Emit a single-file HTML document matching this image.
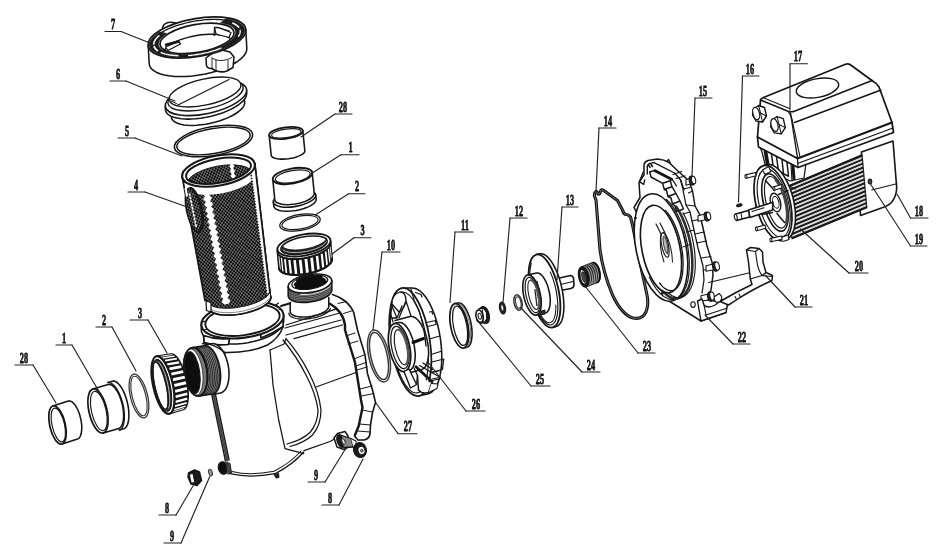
<!DOCTYPE html>
<html><head><meta charset="utf-8"><title>Pump exploded view</title>
<style>
html,body{margin:0;padding:0;background:#fff;}
body{width:944px;height:560px;overflow:hidden;font-family:"Liberation Serif",serif;}
svg{display:block}
.lb{font-family:"Liberation Serif",serif;font-weight:bold;font-size:14.8px;fill:#111;stroke:#111;stroke-width:0.75px;}
</style></head><body>
<svg width="944" height="560" viewBox="0 0 944 560" stroke-linecap="round" stroke-linejoin="round">
<defs>
<pattern id="mesh" width="3.3" height="3.8" patternUnits="userSpaceOnUse" patternTransform="rotate(-8)">
<rect width="3.3" height="3.8" fill="#050505"/><circle cx="0.8" cy="0.95" r="0.63" fill="#fff"/><circle cx="2.45" cy="2.85" r="0.63" fill="#fff"/>
</pattern>
<pattern id="mesh2" width="3.2" height="3.4" patternUnits="userSpaceOnUse" patternTransform="rotate(-8)">
<rect width="3.2" height="3.4" fill="#222"/><circle cx="0.8" cy="0.85" r="0.95" fill="#fff"/><circle cx="2.4" cy="2.55" r="0.95" fill="#fff"/>
</pattern>
<filter id="soft" x="-2%" y="-2%" width="104%" height="104%"><feGaussianBlur stdDeviation="0.38"/></filter>
</defs>
<rect width="944" height="560" fill="#fff"/>
<g filter="url(#soft)">
<path d="M245.8 29.8 L246.8 48.3 L246.6 50.8 L245.5 53.5 L243.5 56.2 L240.8 58.9 L237.4 61.5 L233.3 64 L228.6 66.4 L223.3 68.7 L217.6 70.7 L211.6 72.4 L205.4 73.9 L199 75.1 L192.6 75.9 L186.4 76.4 L180.3 76.6 L174.5 76.4 L169.1 75.8 L164.2 75 L159.9 73.7 L156.2 72.2 L153.3 70.4 L151.1 68.4 L149.7 66.1 L149.2 63.7 L148.2 45.2Z" fill="#fff" stroke="none" stroke-width="0.0" />
<path d="M245.8 29.8 L246.8 48.3 L246.6 50.8 L245.5 53.5 L243.5 56.2 L240.8 58.9 L237.4 61.5 L233.3 64 L228.6 66.4 L223.3 68.7 L217.6 70.7 L211.6 72.4 L205.4 73.9 L199 75.1 L192.6 75.9 L186.4 76.4 L180.3 76.6 L174.5 76.4 L169.1 75.8 L164.2 75 L159.9 73.7 L156.2 72.2 L153.3 70.4 L151.1 68.4 L149.7 66.1 L149.2 63.7 L148.2 45.2" fill="none" stroke="#151515" stroke-width="1.55" />
<path d="M206 58 L206.5 66 Q208 69 212 68.5 L215 70.5 Q221 73 227 71 L233 67.5 L234 57 L230 52 L222 50 L214 52 Z" fill="#fff" stroke="#151515" stroke-width="1.55" />
<path d="M212 58 L212 68.5 M212 58 L216 60 L216 70.5 M216 60 Q224 62 232 57.5 M228 60.5 L228 70.5" fill="none" stroke="#151515" stroke-width="0.92" />
<path d="M162.5 30 Q162 24 168 22.5 Q174 21.5 178 24.5 L176 28" fill="#fff" stroke="#151515" stroke-width="1.55" />
<ellipse cx="197" cy="37.5" rx="49.5" ry="19" transform="rotate(-10 197 37.5)" fill="#fff" stroke="#151515" stroke-width="1.72" />
<path d="M226.4 18.8 L229.3 19.3 L231.9 19.9 L234.3 20.7 L236.5 21.5 L238.5 22.4 L240.2 23.4 L241.6 24.5 L242.8 25.7 L243.7 27 L244.2 28.3 L244.5 29.7 L244.5 31.1 L244.2 32.6 L243.7 34.1 L242.8 35.6 L241.6 37.2 L240.2 38.7 L238.5 40.2 L236.6 41.8 L234.4 43.2 L231.9 44.7 L229.3 46.1 L226.5 47.5 L223.4 48.8 L220.3 50 L216.9 51.1 L213.5 52.2 L209.9 53.2 L206.3 54.1 L202.6 54.9 L198.9 55.5 L195.1 56.1 L191.4 56.6 L187.7 56.9 L184.1 57.1 L180.5 57.2 L177.1 57.2 L173.8 57 L170.6 56.8 L167.6 56.4 L164.7 55.9 L162.1 55.3 L159.7 54.5 L157.5 53.7 L155.5 52.8 L153.8 51.8 L152.4 50.7 L151.2 49.5 L150.3 48.2 L149.8 46.9 L149.5 45.5 L149.5 44.1 L149.8 42.6 L150.3 41.1 L151.2 39.6 L152.4 38 L153.8 36.5 L155.5 35 L157.4 33.4 L159.6 32 L166.6 33.4 L164.8 34.7 L163.2 35.9 L161.8 37.2 L160.7 38.5 L159.7 39.7 L159 41 L158.6 42.2 L158.3 43.4 L158.3 44.6 L158.6 45.8 L159.1 46.9 L159.8 47.9 L160.7 48.9 L161.9 49.8 L163.3 50.7 L164.9 51.4 L166.7 52.1 L168.6 52.7 L170.8 53.2 L173.1 53.7 L175.6 54 L178.1 54.2 L180.9 54.3 L183.7 54.4 L186.6 54.3 L189.5 54.1 L192.5 53.9 L195.5 53.5 L198.6 53 L201.6 52.5 L204.6 51.9 L207.6 51.1 L210.4 50.3 L213.3 49.5 L216 48.5 L218.5 47.5 L221 46.4 L223.3 45.3 L225.5 44.2 L227.4 43 L229.2 41.7 L230.8 40.5 L232.2 39.2 L233.3 37.9 L234.3 36.7 L235 35.4 L235.4 34.2 L235.7 33 L235.7 31.8 L235.4 30.6 L234.9 29.5 L234.2 28.5 L233.3 27.5 L232.1 26.6 L230.7 25.7 L229.1 25 L227.3 24.3 L225.4 23.7 L223.2 23.2 L220.9 22.7Z" fill="#1c1c1c" stroke="#151515" stroke-width="0.69" />
<path d="M161 32.7 L163 31.6 L165 30.5 L167.3 29.4 L169.6 28.3 L172.1 27.3 L174.7 26.3 L177.3 25.4 L180.1 24.6 L182.9 23.8 L185.8 23 L188.7 22.3 L191.7 21.7 L194.7 21.2 L197.7 20.7 L200.7 20.3 L203.7 19.9 L206.6 19.7 L209.5 19.5 L212.4 19.4 L215.2 19.4 L217.9 19.5 L220.5 19.6 L223.1 19.8 L225.5 20.1" fill="none" stroke="#151515" stroke-width="1.26" />
<ellipse cx="197" cy="38.4" rx="37.5" ry="14" transform="rotate(-10 197 38.4)" fill="#fff" stroke="#151515" stroke-width="1.72" />
<path d="M177.9 55.7 L177.1 55.7 L176.2 55.6 L175.4 55.6 L174.6 55.5 L173.8 55.4 L173 55.3 L172.2 55.3 L171.5 55.2 L170.7 55.1 L170 54.9 L169.2 54.8 L168.5 54.7 L167.8 54.6 L167.1 54.4 L166.4 54.3 L165.8 54.1 L165.1 53.9 L164.5 53.8 L163.9 53.6 L163.3 53.4 L162.7 53.2 L162.2 53 L161.6 52.8 L161.1 52.6" fill="none" stroke="#f4f4f4" stroke-width="1.49" />
<path d="M221 48.1 L219.8 48.6 L218.6 49 L217.4 49.5 L216.1 49.9 L214.9 50.3 L213.6 50.7 L212.2 51.1 L210.9 51.5 L209.6 51.9 L208.2 52.3 L206.8 52.6 L205.5 52.9 L204.1 53.2 L202.7 53.5 L201.3 53.8 L199.8 54.1 L198.4 54.3 L197 54.5 L195.6 54.7 L194.2 54.9 L192.8 55.1 L191.4 55.2 L190 55.4 L188.6 55.5" fill="none" stroke="#f4f4f4" stroke-width="1.38" />
<path d="M157.4 50.6 L157.2 50.4 L157 50.3 L156.9 50.1 L156.7 50 L156.5 49.8 L156.3 49.7 L156.2 49.5 L156 49.3 L155.8 49.2 L155.7 49 L155.5 48.9 L155.4 48.7 L155.3 48.5 L155.1 48.4 L155 48.2 L154.9 48 L154.8 47.9 L154.7 47.7 L154.6 47.5 L154.5 47.3 L154.4 47.2 L154.3 47 L154.2 46.8 L154.2 46.6" fill="none" stroke="#f4f4f4" stroke-width="1.84" />
<path d="M153.8 44.1 L153.8 43.7 L153.9 43.4 L153.9 43.1 L154 42.7 L154.1 42.4 L154.2 42.1 L154.3 41.7 L154.5 41.4 L154.6 41 L154.8 40.7 L155 40.3 L155.2 40 L155.4 39.6 L155.7 39.3 L155.9 38.9 L156.2 38.6 L156.5 38.2 L156.8 37.9 L157.1 37.5 L157.4 37.2 L157.8 36.8 L158.1 36.5 L158.5 36.1 L158.9 35.8" fill="none" stroke="#f4f4f4" stroke-width="1.61" />
<path d="M232.9 23.2 L233.2 23.4 L233.5 23.5 L233.8 23.6 L234.1 23.8 L234.4 23.9 L234.7 24.1 L235 24.2 L235.2 24.4 L235.5 24.5 L235.8 24.7 L236 24.9 L236.2 25 L236.5 25.2 L236.7 25.3 L236.9 25.5 L237.1 25.7 L237.3 25.8 L237.5 26 L237.7 26.2 L237.9 26.4 L238.1 26.6 L238.3 26.7 L238.4 26.9 L238.6 27.1" fill="none" stroke="#f4f4f4" stroke-width="1.72" />
<path d="M240.1 30.3 L240.2 30.5 L240.2 30.8 L240.2 31 L240.2 31.2 L240.2 31.5 L240.2 31.7 L240.2 32 L240.2 32.2 L240.1 32.5 L240.1 32.7 L240 33 L240 33.2 L239.9 33.5 L239.8 33.7 L239.7 34 L239.6 34.2 L239.5 34.5 L239.4 34.7 L239.3 35 L239.1 35.2 L239 35.5 L238.8 35.8 L238.7 36 L238.5 36.3" fill="none" stroke="#f4f4f4" stroke-width="1.38" />
<path d="M164.1 50.7 L165.1 49.3 L166.3 47.8 L167.9 46.4 L169.9 44.9 L172.2 43.5 L174.7 42.2 L177.5 40.9 L180.6 39.7 L183.8 38.6 L187.2 37.6 L190.7 36.7 L194.3 36 L198 35.3 L201.6 34.8 L205.2 34.5 L208.7 34.3 L212.1 34.3 L215.3 34.4 L218.4 34.7 L221.2 35.1 L223.8 35.6 L226.1 36.3 L228 37.1 L229.6 38.1" fill="none" stroke="#151515" stroke-width="1.38" />
<path d="M214.5 27.5 L216 34 L229 37.5 L231 32.5 L218 27.5 Z" fill="#fff" stroke="#151515" stroke-width="1.26" />
<path d="M216 34 L214 35.5 L214.5 27.5 M218 27.5 L229.5 31" fill="none" stroke="#151515" stroke-width="1.15" />
<path d="M165.5 47 L178.5 41.5 L180.5 44 L168 50.5 Z" fill="#fff" stroke="#151515" stroke-width="1.26" />
<path d="M166 44.8 L178.5 41.5" fill="none" stroke="#151515" stroke-width="2.53" />
<path d="M243.1 94 L244.6 101.5 L244.7 103.4 L244.1 105.3 L242.9 107.4 L241.1 109.4 L238.7 111.5 L235.8 113.5 L232.5 115.5 L228.7 117.4 L224.6 119.1 L220.1 120.7 L215.5 122.1 L210.7 123.2 L205.9 124.2 L201.2 124.8 L196.5 125.3 L192.1 125.4 L187.9 125.3 L184 124.9 L180.6 124.2 L177.6 123.3 L175.2 122.2 L173.3 120.8 L172 119.2 L171.4 117.5 L169.9 110Z" fill="#fff" stroke="none" stroke-width="0.0" />
<path d="M243.1 94 L244.6 101.5 L244.7 103.4 L244.1 105.3 L242.9 107.4 L241.1 109.4 L238.7 111.5 L235.8 113.5 L232.5 115.5 L228.7 117.4 L224.6 119.1 L220.1 120.7 L215.5 122.1 L210.7 123.2 L205.9 124.2 L201.2 124.8 L196.5 125.3 L192.1 125.4 L187.9 125.3 L184 124.9 L180.6 124.2 L177.6 123.3 L175.2 122.2 L173.3 120.8 L172 119.2 L171.4 117.5 L169.9 110" fill="none" stroke="#151515" stroke-width="1.55" />
<path d="M246.7 90.3 L246.7 93.8 L246.3 95.9 L245.3 98.2 L243.6 100.4 L241.2 102.7 L238.3 105 L234.7 107.2 L230.7 109.4 L226.3 111.4 L221.6 113.2 L216.5 114.8 L211.3 116.2 L206 117.3 L200.7 118.2 L195.5 118.8 L190.4 119.1 L185.7 119.1 L181.3 118.7 L177.3 118.1 L173.7 117.2 L170.8 116.1 L168.4 114.7 L166.7 113 L165.7 111.2 L165.3 109.2 L165.3 105.7Z" fill="#fff" stroke="none" stroke-width="0.0" />
<path d="M246.7 90.3 L246.7 93.8 L246.3 95.9 L245.3 98.2 L243.6 100.4 L241.2 102.7 L238.3 105 L234.7 107.2 L230.7 109.4 L226.3 111.4 L221.6 113.2 L216.5 114.8 L211.3 116.2 L206 117.3 L200.7 118.2 L195.5 118.8 L190.4 119.1 L185.7 119.1 L181.3 118.7 L177.3 118.1 L173.7 117.2 L170.8 116.1 L168.4 114.7 L166.7 113 L165.7 111.2 L165.3 109.2 L165.3 105.7" fill="none" stroke="#151515" stroke-width="1.55" />
<ellipse cx="206" cy="98" rx="41.5" ry="15.5" transform="rotate(-12.5 206 98)" fill="#fff" stroke="#151515" stroke-width="1.55" />
<ellipse cx="205.5" cy="95" rx="38.5" ry="14" transform="rotate(-12.5 205.5 95)" fill="#fff" stroke="#151515" stroke-width="1.38" />
<ellipse cx="205" cy="92" rx="36.7" ry="13" transform="rotate(-12.5 205 92)" fill="#fff" stroke="#151515" stroke-width="1.38" />
<line x1="177" y1="105.6" x2="229" y2="79.4" stroke="#151515" stroke-width="1.1"/>
<line x1="171" y1="101" x2="176.5" y2="103.5" stroke="#151515" stroke-width="1.0"/>
<ellipse cx="213.5" cy="141" rx="39.7" ry="14.4" transform="rotate(-10 213.5 141)" fill="none" stroke="#151515" stroke-width="1.55" />
<ellipse cx="213.5" cy="141" rx="37.2" ry="12.4" transform="rotate(-10 213.5 141)" fill="none" stroke="#151515" stroke-width="1.44" />
<path d="M302.8 130.7 L304.8 150.7 L304.8 151.5 L304.4 152.3 L303.8 153.1 L302.9 153.9 L301.7 154.6 L300.3 155.4 L298.7 156.1 L296.9 156.8 L295 157.4 L292.9 157.9 L290.8 158.3 L288.6 158.7 L286.4 158.9 L284.2 159.1 L282.1 159.1 L280.1 159.1 L278.2 158.9 L276.5 158.6 L275 158.3 L273.7 157.8 L272.7 157.3 L271.9 156.7 L271.4 156 L271.2 155.3 L269.2 135.3Z" fill="#fff" stroke="none" stroke-width="0.0" />
<path d="M302.8 130.7 L304.8 150.7 L304.8 151.5 L304.4 152.3 L303.8 153.1 L302.9 153.9 L301.7 154.6 L300.3 155.4 L298.7 156.1 L296.9 156.8 L295 157.4 L292.9 157.9 L290.8 158.3 L288.6 158.7 L286.4 158.9 L284.2 159.1 L282.1 159.1 L280.1 159.1 L278.2 158.9 L276.5 158.6 L275 158.3 L273.7 157.8 L272.7 157.3 L271.9 156.7 L271.4 156 L271.2 155.3 L269.2 135.3" fill="none" stroke="#151515" stroke-width="1.55" />
<ellipse cx="286" cy="133" rx="17" ry="5.7" transform="rotate(-8 286 133)" fill="#fff" stroke="#151515" stroke-width="1.84" />
<ellipse cx="286.3" cy="133.4" rx="14.8" ry="4.3" transform="rotate(-8 286.3 133.4)" fill="#fff" stroke="#151515" stroke-width="1.15" />
<path d="M315.7 194.9 L316.2 198.9 L316.1 200 L315.7 201.1 L315 202.2 L313.9 203.4 L312.4 204.5 L310.7 205.6 L308.7 206.6 L306.5 207.6 L304 208.5 L301.4 209.2 L298.8 209.9 L296 210.4 L293.2 210.8 L290.5 211.1 L287.8 211.2 L285.3 211.2 L282.9 211 L280.7 210.7 L278.8 210.2 L277.1 209.6 L275.8 208.9 L274.8 208 L274.1 207.1 L273.8 206.1 L273.3 202.1Z" fill="#fff" stroke="none" stroke-width="0.0" />
<path d="M315.7 194.9 L316.2 198.9 L316.1 200 L315.7 201.1 L315 202.2 L313.9 203.4 L312.4 204.5 L310.7 205.6 L308.7 206.6 L306.5 207.6 L304 208.5 L301.4 209.2 L298.8 209.9 L296 210.4 L293.2 210.8 L290.5 211.1 L287.8 211.2 L285.3 211.2 L282.9 211 L280.7 210.7 L278.8 210.2 L277.1 209.6 L275.8 208.9 L274.8 208 L274.1 207.1 L273.8 206.1 L273.3 202.1" fill="none" stroke="#151515" stroke-width="1.55" />
<ellipse cx="294.5" cy="198.5" rx="21.5" ry="8" transform="rotate(-10 294.5 198.5)" fill="#fff" stroke="#151515" stroke-width="1.55" />
<path d="M312.2 172.7 L314.2 193.2 L314.2 194.2 L313.7 195.3 L313 196.4 L311.9 197.4 L310.6 198.5 L309 199.5 L307.1 200.5 L305 201.4 L302.7 202.2 L300.3 202.9 L297.8 203.5 L295.2 204 L292.6 204.3 L290.1 204.6 L287.6 204.7 L285.3 204.6 L283.1 204.4 L281.1 204.1 L279.3 203.6 L277.8 203.1 L276.6 202.4 L275.6 201.6 L275 200.7 L274.8 199.8 L272.8 179.3Z" fill="#fff" stroke="none" stroke-width="0.0" />
<path d="M312.2 172.7 L314.2 193.2 L314.2 194.2 L313.7 195.3 L313 196.4 L311.9 197.4 L310.6 198.5 L309 199.5 L307.1 200.5 L305 201.4 L302.7 202.2 L300.3 202.9 L297.8 203.5 L295.2 204 L292.6 204.3 L290.1 204.6 L287.6 204.7 L285.3 204.6 L283.1 204.4 L281.1 204.1 L279.3 203.6 L277.8 203.1 L276.6 202.4 L275.6 201.6 L275 200.7 L274.8 199.8 L272.8 179.3" fill="none" stroke="#151515" stroke-width="1.55" />
<ellipse cx="292.5" cy="176" rx="20" ry="7.5" transform="rotate(-10 292.5 176)" fill="#fff" stroke="#151515" stroke-width="1.95" />
<ellipse cx="292.8" cy="176.5" rx="17.6" ry="5.9" transform="rotate(-10 292.8 176.5)" fill="#fff" stroke="#151515" stroke-width="1.15" />
<ellipse cx="300" cy="222.5" rx="20.5" ry="8" transform="rotate(-10 300 222.5)" fill="none" stroke="#151515" stroke-width="1.26" />
<ellipse cx="300" cy="222.5" rx="18.3" ry="6.5" transform="rotate(-10 300 222.5)" fill="none" stroke="#151515" stroke-width="1.15" />
<path d="M330.6 242.4 L332.1 258.9 L332 260.3 L331.4 261.8 L330.4 263.2 L329 264.7 L327.2 266.2 L325 267.7 L322.4 269 L319.6 270.3 L316.6 271.4 L313.3 272.4 L309.9 273.3 L306.5 274 L303 274.5 L299.5 274.8 L296.2 275 L293 274.9 L290.1 274.6 L287.4 274.2 L285 273.6 L283 272.8 L281.3 271.8 L280.1 270.7 L279.3 269.5 L278.9 268.1 L277.4 251.6Z" fill="#fff" stroke="none" stroke-width="0.0" />
<path d="M330.6 242.4 L332.1 258.9 L332 260.3 L331.4 261.8 L330.4 263.2 L329 264.7 L327.2 266.2 L325 267.7 L322.4 269 L319.6 270.3 L316.6 271.4 L313.3 272.4 L309.9 273.3 L306.5 274 L303 274.5 L299.5 274.8 L296.2 275 L293 274.9 L290.1 274.6 L287.4 274.2 L285 273.6 L283 272.8 L281.3 271.8 L280.1 270.7 L279.3 269.5 L278.9 268.1 L277.4 251.6" fill="none" stroke="#151515" stroke-width="1.55" />
<path d="M330.6 242.9 L330.5 244.2 L330 245.7 L329 247.1 L327.7 248.6 L325.9 250 L323.8 251.4 L321.4 252.8 L318.7 254 L315.7 255.2 L312.6 256.2 L309.3 257.1 L305.9 257.8 L302.5 258.4 L299.2 258.8 L295.9 258.9 L292.7 259 L289.7 258.8 L287 258.4 L284.5 257.9 L282.4 257.1 L280.6 256.3 L279.1 255.3 L278.1 254.1 L277.6 252.9 L279.1 268.9 L279.6 270.1 L280.6 271.3 L282.1 272.3 L283.9 273.1 L286 273.9 L288.5 274.4 L291.2 274.8 L294.2 275 L297.4 274.9 L300.7 274.8 L304 274.4 L307.4 273.8 L310.8 273.1 L314.1 272.2 L317.2 271.2 L320.2 270 L322.9 268.8 L325.3 267.4 L327.4 266 L329.2 264.6 L330.5 263.1 L331.5 261.7 L332 260.2 L332.1 258.9Z" fill="#151515" stroke="#151515" stroke-width="0.57" />
<path d="M330.1 246.4 L331.6 260.3" fill="none" stroke="#fff" stroke-width="0.88" stroke-linecap="butt"/>
<path d="M328.4 248.9 L329.9 262.8" fill="none" stroke="#fff" stroke-width="1.3" stroke-linecap="butt"/>
<path d="M325.6 251.4 L327.1 265.3" fill="none" stroke="#fff" stroke-width="1.76" stroke-linecap="butt"/>
<path d="M321.7 253.7 L323.2 267.6" fill="none" stroke="#fff" stroke-width="2.2" stroke-linecap="butt"/>
<path d="M317 255.8 L318.5 269.7" fill="none" stroke="#fff" stroke-width="2.56" stroke-linecap="butt"/>
<path d="M311.6 257.6 L313.1 271.5" fill="none" stroke="#fff" stroke-width="2.79" stroke-linecap="butt"/>
<path d="M305.9 258.9 L307.4 272.8" fill="none" stroke="#fff" stroke-width="2.88" stroke-linecap="butt"/>
<path d="M300.2 259.8 L301.7 273.7" fill="none" stroke="#fff" stroke-width="2.79" stroke-linecap="butt"/>
<path d="M294.6 260.1 L296.1 274" fill="none" stroke="#fff" stroke-width="2.56" stroke-linecap="butt"/>
<path d="M289.4 259.8 L290.9 273.7" fill="none" stroke="#fff" stroke-width="2.2" stroke-linecap="butt"/>
<path d="M284.9 259.1 L286.4 273" fill="none" stroke="#fff" stroke-width="1.76" stroke-linecap="butt"/>
<path d="M281.4 257.8 L282.9 271.7" fill="none" stroke="#fff" stroke-width="1.3" stroke-linecap="butt"/>
<path d="M278.9 256.1 L280.4 270" fill="none" stroke="#fff" stroke-width="0.88" stroke-linecap="butt"/>
<path d="M332 258.5 L332.1 259.9 L331.6 261.3 L330.8 262.8 L329.5 264.3 L327.7 265.8 L325.6 267.3 L323.2 268.6 L320.5 269.9 L317.5 271.1 L314.2 272.2 L310.9 273.1 L307.4 273.8 L304 274.4 L300.5 274.8 L297.1 275 L293.9 274.9 L290.9 274.7 L288.1 274.3 L285.6 273.8 L283.5 273 L281.7 272.1 L280.4 271 L279.5 269.8 L279 268.5" fill="none" stroke="#151515" stroke-width="2.07" />
<path d="M330.6 240.8 L330.6 243.1 L330.4 244.5 L329.7 246 L328.6 247.5 L327 249 L325.1 250.4 L322.8 251.8 L320.2 253.2 L317.3 254.4 L314.2 255.5 L310.9 256.5 L307.5 257.3 L304 258 L300.5 258.4 L297.1 258.7 L293.8 258.8 L290.7 258.7 L287.8 258.3 L285.2 257.8 L282.9 257.2 L281 256.3 L279.4 255.3 L278.3 254.2 L277.6 252.9 L277.4 251.5 L277.4 249.2Z" fill="#fff" stroke="none" stroke-width="0.0" />
<path d="M330.6 240.8 L330.6 243.1 L330.4 244.5 L329.7 246 L328.6 247.5 L327 249 L325.1 250.4 L322.8 251.8 L320.2 253.2 L317.3 254.4 L314.2 255.5 L310.9 256.5 L307.5 257.3 L304 258 L300.5 258.4 L297.1 258.7 L293.8 258.8 L290.7 258.7 L287.8 258.3 L285.2 257.8 L282.9 257.2 L281 256.3 L279.4 255.3 L278.3 254.2 L277.6 252.9 L277.4 251.5 L277.4 249.2" fill="none" stroke="#151515" stroke-width="1.55" />
<ellipse cx="304" cy="245" rx="27" ry="10.5" transform="rotate(-10.7 304 245)" fill="#fff" stroke="#151515" stroke-width="1.84" />
<ellipse cx="304" cy="245.2" rx="23.5" ry="8.3" transform="rotate(-10.7 304 245.2)" fill="#fff" stroke="#151515" stroke-width="1.49" />
<path d="M327.1 241.6 L326.9 242.6 L326.3 243.8 L325.4 244.9 L324.1 246 L322.6 247.2 L320.7 248.3 L318.6 249.3 L316.3 250.3 L313.8 251.2 L311.1 252 L308.4 252.8 L305.5 253.4 L302.7 253.8 L299.8 254.2 L297.1 254.4 L294.4 254.4 L291.9 254.4 L289.5 254.2 L287.4 253.8 L285.6 253.3 L284 252.7 L282.7 252 L281.7 251.2 L281.1 250.3 L283.1 246.5 L283.6 247.3 L284.5 248 L285.7 248.6 L287.2 249.1 L288.9 249.5 L290.9 249.8 L293.1 249.9 L295.4 250 L297.9 249.9 L300.5 249.7 L303.2 249.3 L305.8 248.9 L308.5 248.3 L311.1 247.7 L313.6 246.9 L315.9 246.1 L318.1 245.2 L320.1 244.3 L321.8 243.3 L323.3 242.3 L324.5 241.3 L325.4 240.3 L325.9 239.3 L326.2 238.3Z" fill="#222" stroke="#151515" stroke-width="0.92" />
<path d="M326.3 241.7 L325.7 242.6 L324.8 243.6 L323.7 244.5 L322.4 245.5 L320.8 246.4 L319.1 247.3 L317.2 248.2 L315.1 249 L312.9 249.7 L310.6 250.4 L308.2 251 L305.7 251.5 L303.3 251.9 L300.9 252.2 L298.5 252.4 L296.1 252.5 L293.9 252.5 L291.8 252.5 L289.9 252.3 L288.1 252 L286.5 251.6 L285.1 251.1 L283.9 250.5 L283 249.9" fill="none" stroke="#ddd" stroke-width="0.8" />
<path d="M204 337 L204 343 L210 345 L214 392 L226 462 L230 474 Q250 479 275 474 Q293 465 304 451.5 L330 441 L340 436 L355 436 L364 439.5 L369 435 L369 427 L371.5 415 L375.8 402.5 L372.5 390 L367.5 373 L365 355 L357.5 330 L353.5 312.5 Q350 303 341 298 L332.5 294 L330 304 L292 309 L283 316 Z" fill="#fff" stroke="none" stroke-width="0.0" />
<path d="M332.5 294.5 Q340 297 345 301 Q351 306 353.7 312.5 L357.5 330 L365 355 L367.5 373.7 L372.5 390 L375.5 402.5 L372.5 412.5 L370.5 425 L370 434 Q369 439 364 440 L358 440 L354.5 436" fill="none" stroke="#151515" stroke-width="1.61" />
<path d="M330 303.7 Q336 307 340 312.5 Q344 318 345 325 L345 330 L355 362.5 L361 400 L362.5 407.5 L358.7 426 L355 435" fill="none" stroke="#151515" stroke-width="2.42" />
<line x1="338" y1="303.5" x2="346.5" y2="301.5" stroke="#151515" stroke-width="1.0"/>
<line x1="343.5" y1="313.5" x2="351.5" y2="311" stroke="#151515" stroke-width="1.0"/>
<line x1="346" y1="336" x2="355" y2="333" stroke="#151515" stroke-width="1.0"/>
<line x1="348" y1="344" x2="358" y2="341" stroke="#151515" stroke-width="1.0"/>
<line x1="354" y1="359" x2="364" y2="355" stroke="#151515" stroke-width="1.0"/>
<line x1="356" y1="366" x2="366" y2="362.5" stroke="#151515" stroke-width="1.0"/>
<line x1="357" y1="370" x2="367" y2="367" stroke="#151515" stroke-width="1.0"/>
<line x1="360" y1="389" x2="372" y2="386" stroke="#151515" stroke-width="1.0"/>
<line x1="361.5" y1="396" x2="374" y2="393.5" stroke="#151515" stroke-width="1.0"/>
<line x1="362" y1="410" x2="372.5" y2="412" stroke="#151515" stroke-width="1.0"/>
<line x1="359.5" y1="424" x2="370.5" y2="425" stroke="#151515" stroke-width="1.0"/>
<line x1="357.5" y1="431" x2="370" y2="432" stroke="#151515" stroke-width="1.0"/>
<path d="M286 325 L337.5 308.7 M285 328 L340 313 M286 335 L341 320 M294 338.7 L342.5 325" fill="none" stroke="#151515" stroke-width="1.26" />
<path d="M281 306 L291 303" fill="none" stroke="#151515" stroke-width="1.84" />
<path d="M286 338.7 Q300 355 309 373 Q319 392 321 410 Q321 425 312.5 435 Q304 443 290 446.5" fill="none" stroke="#151515" stroke-width="1.26" />
<path d="M283 340 Q297 357 306 375 Q316 394 318 410 Q318 423 310 432.5 Q302 440 287 444" fill="none" stroke="#151515" stroke-width="1.26" />
<line x1="316" y1="387" x2="356" y2="372.5" stroke="#151515" stroke-width="1.1"/>
<path d="M270 350 L273 385 L278.7 420 L285 448.7 L303.7 453.7" fill="none" stroke="#151515" stroke-width="1.26" />
<path d="M286 338.7 L284 344 L270 350" fill="none" stroke="#151515" stroke-width="1.15" />
<path d="M230 473.7 Q250 478.5 275 473.7 Q293 464.5 303.7 452" fill="none" stroke="#151515" stroke-width="1.26" />
<path d="M232 471.5 Q250 476 274 471.3 Q291 462.5 301 451" fill="none" stroke="#151515" stroke-width="1.03" />
<path d="M274 474 L276 478 L279 477.5 L278.5 473" fill="#222" stroke="#151515" stroke-width="0.92" />
<path d="M304 450.6 L330 441.5 L338 437" fill="none" stroke="#151515" stroke-width="1.26" />
<path d="M211.5 393 L225.5 461 M215 392.5 L229 460" fill="none" stroke="#151515" stroke-width="1.49" />
<path d="M213.2 393 L227.3 460" fill="none" stroke="#4a4a4a" stroke-width="2.76" />
<ellipse cx="223" cy="468" rx="4.6" ry="6.2" transform="rotate(-12 223 468)" fill="#111" stroke="#151515" stroke-width="1.38" />
<path d="M226 462 L230 463.5 L231.5 473 L227.5 474" fill="#444" stroke="#151515" stroke-width="0.92" />
<path d="M204 337 L204 343 M225 352.5 Q250 353 267.5 345 Q279 338 283 327" fill="none" stroke="#151515" stroke-width="1.49" />
<path d="M225 352.5 L224 361" fill="none" stroke="#151515" stroke-width="1.38" />
<path d="M285 323.7 L308 317 M286 336 L308 327.5" fill="none" stroke="#151515" stroke-width="0.0" />
<path d="M283.7 315.5 L283.7 321 L283.3 323.3 L282.3 325.8 L280.6 328.2 L278.2 330.5 L275.2 332.8 L271.6 335 L267.6 337 L263.1 338.8 L258.3 340.3 L253.2 341.6 L247.9 342.7 L242.5 343.4 L237.1 343.9 L231.8 344 L226.7 343.8 L221.9 343.3 L217.4 342.5 L213.4 341.4 L209.8 340 L206.8 338.4 L204.4 336.5 L202.7 334.5 L201.7 332.3 L201.3 330 L201.3 324.5Z" fill="#fff" stroke="none" stroke-width="0.0" />
<path d="M283.7 315.5 L283.7 321 L283.3 323.3 L282.3 325.8 L280.6 328.2 L278.2 330.5 L275.2 332.8 L271.6 335 L267.6 337 L263.1 338.8 L258.3 340.3 L253.2 341.6 L247.9 342.7 L242.5 343.4 L237.1 343.9 L231.8 344 L226.7 343.8 L221.9 343.3 L217.4 342.5 L213.4 341.4 L209.8 340 L206.8 338.4 L204.4 336.5 L202.7 334.5 L201.7 332.3 L201.3 330 L201.3 324.5" fill="none" stroke="#151515" stroke-width="1.55" />
<path d="M203.5 335.5 L204.3 342.5 Q215 346 228.5 344.5 L229.5 338.5 Q216 340 203.5 335.5Z" fill="#fff" stroke="#151515" stroke-width="1.72" />
<path d="M260.3 330.5 L261 338 Q273 333.5 283.2 326.5 L283 318.5 Q272 326.5 260.3 330.5Z" fill="#fff" stroke="#151515" stroke-width="1.72" />
<ellipse cx="242.5" cy="320" rx="41.5" ry="17.8" transform="rotate(-7.7 242.5 320)" fill="#fff" stroke="#151515" stroke-width="2.07" />
<ellipse cx="242.5" cy="320" rx="37.5" ry="15.3" transform="rotate(-7.7 242.5 320)" fill="#fff" stroke="#151515" stroke-width="1.84" />
<path d="M202.5 322 L205.5 321 M203 330 L206.5 329.5 M279 309 L282.5 310.5 M276 305 L278.5 303" fill="none" stroke="#151515" stroke-width="1.15" />
<path d="M328.8 297.4 L328.8 306.4 L328.6 307.4 L328.1 308.5 L327.3 309.5 L326.2 310.5 L324.8 311.6 L323.1 312.5 L321.2 313.4 L319.1 314.3 L316.9 315 L314.5 315.6 L312 316.2 L309.5 316.6 L307 316.9 L304.5 317 L302.1 317 L299.9 316.9 L297.8 316.6 L295.9 316.2 L294.2 315.7 L292.8 315 L291.7 314.3 L290.9 313.5 L290.4 312.6 L290.2 311.6 L290.2 302.6Z" fill="#fff" stroke="none" stroke-width="0.0" />
<path d="M328.8 297.4 L328.8 306.4 L328.6 307.4 L328.1 308.5 L327.3 309.5 L326.2 310.5 L324.8 311.6 L323.1 312.5 L321.2 313.4 L319.1 314.3 L316.9 315 L314.5 315.6 L312 316.2 L309.5 316.6 L307 316.9 L304.5 317 L302.1 317 L299.9 316.9 L297.8 316.6 L295.9 316.2 L294.2 315.7 L292.8 315 L291.7 314.3 L290.9 313.5 L290.4 312.6 L290.2 311.6 L290.2 302.6" fill="none" stroke="#151515" stroke-width="1.55" />
<path d="M330.3 308.6 L329.9 309.7 L329.1 310.8 L328 311.9 L326.6 312.9 L324.9 314 L323 314.9 L320.8 315.8 L318.5 316.6 L316.1 317.3 L313.5 317.9 L310.9 318.4 L308.2 318.8 L305.6 319 L303.1 319.1 L300.6 319 L298.3 318.8 L296.2 318.5 L294.3 318 L292.7 317.4 L291.3 316.7 L290.2 315.9 L289.5 315.1 L289 314.1 L288.9 313.1" fill="none" stroke="#151515" stroke-width="1.26" />
<path d="M331.8 280.6 L331.8 290.1 L331.6 291.4 L331 292.6 L330.1 293.8 L328.9 295.1 L327.3 296.3 L325.4 297.4 L323.3 298.5 L320.9 299.4 L318.3 300.3 L315.6 301 L312.8 301.6 L310 302.1 L307.2 302.4 L304.4 302.5 L301.7 302.5 L299.1 302.3 L296.7 302 L294.6 301.5 L292.7 300.8 L291.1 300 L289.9 299.1 L289 298.1 L288.4 297 L288.2 295.9 L288.2 286.4Z" fill="#8a8a8a" stroke="none" stroke-width="0.0" />
<path d="M331.8 280.6 L331.8 290.1 L331.6 291.4 L331 292.6 L330.1 293.8 L328.9 295.1 L327.3 296.3 L325.4 297.4 L323.3 298.5 L320.9 299.4 L318.3 300.3 L315.6 301 L312.8 301.6 L310 302.1 L307.2 302.4 L304.4 302.5 L301.7 302.5 L299.1 302.3 L296.7 302 L294.6 301.5 L292.7 300.8 L291.1 300 L289.9 299.1 L289 298.1 L288.4 297 L288.2 295.9 L288.2 286.4" fill="none" stroke="#151515" stroke-width="1.55" />
<path d="M331.8 282.5 L331.5 283.7 L331 284.9 L330.1 286 L328.9 287.2 L327.5 288.3 L325.7 289.4 L323.7 290.4 L321.6 291.4 L319.2 292.2 L316.7 293 L314.1 293.6 L311.4 294.1 L308.7 294.4 L306 294.7 L303.4 294.7 L300.9 294.7 L298.6 294.4 L296.4 294.1 L294.4 293.6 L292.6 293 L291.1 292.2 L289.9 291.4 L289 290.4 L288.5 289.4" fill="none" stroke="#222" stroke-width="0.8" />
<path d="M331.8 284.2 L331.5 285.4 L331 286.6 L330.1 287.7 L328.9 288.9 L327.5 290 L325.7 291.1 L323.7 292.1 L321.6 293.1 L319.2 293.9 L316.7 294.7 L314.1 295.3 L311.4 295.8 L308.7 296.1 L306 296.4 L303.4 296.4 L300.9 296.4 L298.6 296.1 L296.4 295.8 L294.4 295.3 L292.6 294.7 L291.1 293.9 L289.9 293.1 L289 292.1 L288.5 291.1" fill="none" stroke="#222" stroke-width="0.8" />
<path d="M331.8 285.9 L331.5 287.1 L331 288.3 L330.1 289.4 L328.9 290.6 L327.5 291.7 L325.7 292.8 L323.7 293.8 L321.6 294.8 L319.2 295.6 L316.7 296.4 L314.1 297 L311.4 297.5 L308.7 297.8 L306 298.1 L303.4 298.1 L300.9 298.1 L298.6 297.8 L296.4 297.5 L294.4 297 L292.6 296.4 L291.1 295.6 L289.9 294.8 L289 293.8 L288.5 292.8" fill="none" stroke="#222" stroke-width="0.8" />
<path d="M331.8 287.6 L331.5 288.8 L331 290 L330.1 291.1 L328.9 292.3 L327.5 293.4 L325.7 294.5 L323.7 295.5 L321.6 296.5 L319.2 297.3 L316.7 298.1 L314.1 298.7 L311.4 299.2 L308.7 299.5 L306 299.8 L303.4 299.8 L300.9 299.8 L298.6 299.5 L296.4 299.2 L294.4 298.7 L292.6 298.1 L291.1 297.3 L289.9 296.5 L289 295.5 L288.5 294.5" fill="none" stroke="#222" stroke-width="0.8" />
<path d="M331.8 289.3 L331.5 290.5 L331 291.7 L330.1 292.8 L328.9 294 L327.5 295.1 L325.7 296.2 L323.7 297.2 L321.6 298.2 L319.2 299 L316.7 299.8 L314.1 300.4 L311.4 300.9 L308.7 301.2 L306 301.5 L303.4 301.5 L300.9 301.5 L298.6 301.2 L296.4 300.9 L294.4 300.4 L292.6 299.8 L291.1 299 L289.9 298.2 L289 297.2 L288.5 296.2" fill="none" stroke="#222" stroke-width="0.8" />
<path d="M330.9 284.8 L330.4 285.5 L329.8 286.2 L329.1 286.9 L328.3 287.5 L327.4 288.2 L326.4 288.9 L325.3 289.5 L324.1 290.1 L322.9 290.6 L321.6 291.2 L320.2 291.7 L318.8 292.2 L317.3 292.6 L315.8 293 L314.2 293.4 L312.7 293.7 L311.1 293.9 L309.5 294.2 L307.9 294.3 L306.4 294.4 L304.8 294.5 L303.3 294.5 L301.8 294.5 L300.4 294.4" fill="none" stroke="#ddd" stroke-width="1.03" />
<ellipse cx="310" cy="283.5" rx="22" ry="9" transform="rotate(-9 310 283.5)" fill="#fff" stroke="#151515" stroke-width="1.61" />
<ellipse cx="309.8" cy="282.3" rx="18.2" ry="6.7" transform="rotate(-9 309.8 282.3)" fill="#0d0d0d" stroke="#151515" stroke-width="1.15" />
<path d="M294.5 286.7 L294.3 286.5 L294 286.3 L293.8 286.1 L293.7 285.9 L293.5 285.7 L293.4 285.5 L293.3 285.3 L293.2 285.1 L293.2 284.9 L293.2 284.6 L293.2 284.4 L293.2 284.2 L293.3 283.9 L293.4 283.7 L293.5 283.5 L293.7 283.2 L293.8 283 L294 282.7 L294.2 282.5 L294.5 282.3 L294.8 282 L295 281.8 L295.4 281.5 L295.7 281.3" fill="none" stroke="#eee" stroke-width="1.38" />
<path d="M322.9 277 L323.2 277.1 L323.5 277.2 L323.7 277.3 L324 277.4 L324.2 277.5 L324.5 277.6 L324.7 277.7 L324.9 277.8 L325.1 277.9 L325.3 278.1 L325.4 278.2 L325.6 278.3 L325.7 278.5 L325.9 278.6 L326 278.8 L326.1 278.9 L326.2 279 L326.3 279.2 L326.3 279.4 L326.4 279.5 L326.4 279.7 L326.4 279.8 L326.4 280 L326.4 280.2" fill="none" stroke="#eee" stroke-width="1.15" />
<path d="M204.6 345 L211.6 343.7 L213.2 343.6 L214.9 343.9 L216.6 344.7 L218.3 345.8 L220 347.4 L221.6 349.3 L223.1 351.5 L224.4 354 L225.7 356.8 L226.7 359.7 L227.6 362.8 L228.3 366 L228.8 369.2 L229 372.5 L229 375.6 L228.8 378.6 L228.4 381.5 L227.8 384.1 L227 386.4 L226 388.5 L224.8 390.2 L223.4 391.5 L222 392.4 L220.4 392.9 L213.4 394.2Z" fill="#fff" stroke="none" stroke-width="0.0" />
<path d="M204.6 345 L211.6 343.7 L213.2 343.6 L214.9 343.9 L216.6 344.7 L218.3 345.8 L220 347.4 L221.6 349.3 L223.1 351.5 L224.4 354 L225.7 356.8 L226.7 359.7 L227.6 362.8 L228.3 366 L228.8 369.2 L229 372.5 L229 375.6 L228.8 378.6 L228.4 381.5 L227.8 384.1 L227 386.4 L226 388.5 L224.8 390.2 L223.4 391.5 L222 392.4 L220.4 392.9 L213.4 394.2" fill="none" stroke="#151515" stroke-width="1.55" />
<path d="M202.5 343.7 Q213 343 225 352.5" fill="none" stroke="#151515" stroke-width="1.38" />
<path d="M191.5 347.7 L204.4 345.7 L205.9 345.6 L207.4 346 L209 346.8 L210.6 348 L212.1 349.6 L213.6 351.5 L215 353.7 L216.3 356.2 L217.4 358.9 L218.4 361.8 L219.2 364.9 L219.9 368 L220.3 371.2 L220.6 374.3 L220.6 377.4 L220.4 380.3 L220 383.1 L219.5 385.6 L218.7 387.9 L217.8 389.8 L216.7 391.4 L215.4 392.7 L214.1 393.5 L212.6 393.9 L199.7 395.9Z" fill="#8a8a8a" stroke="none" stroke-width="0.0" />
<path d="M191.5 347.7 L204.4 345.7 L205.9 345.6 L207.4 346 L209 346.8 L210.6 348 L212.1 349.6 L213.6 351.5 L215 353.7 L216.3 356.2 L217.4 358.9 L218.4 361.8 L219.2 364.9 L219.9 368 L220.3 371.2 L220.6 374.3 L220.6 377.4 L220.4 380.3 L220 383.1 L219.5 385.6 L218.7 387.9 L217.8 389.8 L216.7 391.4 L215.4 392.7 L214.1 393.5 L212.6 393.9 L199.7 395.9" fill="none" stroke="#151515" stroke-width="1.55" />
<path d="M194.7 347.4 L196.1 347.7 L197.5 348.4 L199 349.4 L200.4 350.7 L201.7 352.3 L203.1 354.2 L204.3 356.3 L205.4 358.7 L206.4 361.2 L207.3 363.9 L208 366.7 L208.6 369.5 L209.1 372.4 L209.3 375.3 L209.4 378.1 L209.3 380.8 L209.1 383.4 L208.6 385.9 L208.1 388.1 L207.3 390.1 L206.4 391.8 L205.4 393.2 L204.3 394.3 L203.1 395.1" fill="none" stroke="#1a1a1a" stroke-width="0.92" />
<path d="M196.4 347.1 L197.8 347.4 L199.2 348.1 L200.7 349.1 L202.1 350.4 L203.4 352 L204.8 353.9 L206 356.1 L207.1 358.4 L208.1 360.9 L209 363.6 L209.7 366.4 L210.3 369.3 L210.8 372.1 L211 375 L211.1 377.8 L211 380.6 L210.8 383.2 L210.3 385.6 L209.8 387.8 L209 389.8 L208.1 391.5 L207.1 392.9 L206 394.1 L204.8 394.9" fill="none" stroke="#1a1a1a" stroke-width="0.92" />
<path d="M198.1 346.8 L199.5 347.2 L200.9 347.8 L202.4 348.8 L203.8 350.2 L205.1 351.8 L206.5 353.7 L207.7 355.8 L208.8 358.1 L209.8 360.7 L210.7 363.3 L211.4 366.1 L212 369 L212.5 371.9 L212.7 374.8 L212.8 377.6 L212.7 380.3 L212.5 382.9 L212 385.3 L211.5 387.5 L210.7 389.5 L209.8 391.2 L208.8 392.7 L207.7 393.8 L206.5 394.6" fill="none" stroke="#1a1a1a" stroke-width="0.92" />
<path d="M199.8 346.5 L201.2 346.9 L202.6 347.6 L204.1 348.6 L205.5 349.9 L206.8 351.5 L208.2 353.4 L209.4 355.5 L210.5 357.9 L211.5 360.4 L212.4 363.1 L213.1 365.9 L213.7 368.7 L214.2 371.6 L214.4 374.5 L214.5 377.3 L214.4 380 L214.2 382.6 L213.7 385 L213.2 387.3 L212.4 389.2 L211.5 391 L210.5 392.4 L209.4 393.5 L208.2 394.3" fill="none" stroke="#1a1a1a" stroke-width="0.92" />
<path d="M201.5 346.3 L202.9 346.6 L204.3 347.3 L205.8 348.3 L207.2 349.6 L208.5 351.2 L209.9 353.1 L211.1 355.2 L212.2 357.6 L213.2 360.1 L214.1 362.8 L214.8 365.6 L215.4 368.5 L215.9 371.3 L216.1 374.2 L216.2 377 L216.1 379.8 L215.9 382.3 L215.4 384.8 L214.9 387 L214.1 389 L213.2 390.7 L212.2 392.1 L211.1 393.3 L209.9 394.1" fill="none" stroke="#1a1a1a" stroke-width="0.92" />
<path d="M203.2 346 L204.6 346.3 L206 347 L207.5 348 L208.9 349.3 L210.2 351 L211.6 352.8 L212.8 355 L213.9 357.3 L214.9 359.9 L215.8 362.5 L216.5 365.3 L217.1 368.2 L217.6 371.1 L217.8 373.9 L217.9 376.8 L217.8 379.5 L217.6 382.1 L217.1 384.5 L216.6 386.7 L215.8 388.7 L214.9 390.4 L213.9 391.9 L212.8 393 L211.6 393.8" fill="none" stroke="#1a1a1a" stroke-width="0.92" />
<path d="M204.9 345.7 L206.3 346.1 L207.7 346.7 L209.2 347.8 L210.6 349.1 L211.9 350.7 L213.3 352.6 L214.5 354.7 L215.6 357.1 L216.6 359.6 L217.5 362.3 L218.2 365.1 L218.8 367.9 L219.3 370.8 L219.5 373.7 L219.6 376.5 L219.5 379.2 L219.3 381.8 L218.8 384.2 L218.3 386.5 L217.5 388.4 L216.6 390.2 L215.6 391.6 L214.5 392.7 L213.3 393.5" fill="none" stroke="#1a1a1a" stroke-width="0.92" />
<ellipse cx="195.6" cy="371.8" rx="24.3" ry="11.5" transform="rotate(82 195.6 371.8)" fill="#777" stroke="#151515" stroke-width="1.72" />
<ellipse cx="193.2" cy="372.2" rx="23.5" ry="9.4" transform="rotate(82 193.2 372.2)" fill="#fff" stroke="#151515" stroke-width="0.69" />
<ellipse cx="192.4" cy="372.6" rx="21" ry="7.3" transform="rotate(82 192.4 372.6)" fill="#0d0d0d" stroke="#151515" stroke-width="1.15" />
<ellipse cx="195.6" cy="371.8" rx="24.3" ry="11.5" transform="rotate(82 195.6 371.8)" fill="none" stroke="#151515" stroke-width="1.72" />
<path d="M183.5 184 L205 300 L208.8 307.2 L209 308.8 L209.8 310.3 L211.1 311.6 L213.1 312.7 L215.5 313.6 L218.4 314.4 L221.7 314.9 L225.3 315.1 L229.2 315.2 L233.4 314.9 L237.6 314.5 L241.9 313.8 L246.1 312.9 L250.3 311.8 L254.2 310.5 L257.8 309.1 L261.2 307.6 L264.1 305.9 L266.5 304.2 L268.4 302.4 L269.8 300.7 L270.6 299 L270.8 297.3 L270.5 295.8 L270.5 297.5 L256 172 L256.1 172.3 L255.9 174.2 L255.2 176.3 L253.9 178.3 L252.1 180.4 L249.7 182.5 L246.8 184.4 L243.5 186.3 L239.8 188.1 L235.8 189.6 L231.5 191.1 L227 192.3 L222.3 193.2 L217.7 194 L213 194.5 L208.5 194.7 L204.2 194.7 L200.1 194.4 L196.3 193.8 L192.9 193 L189.9 191.9 L187.5 190.7 L185.5 189.2 L184.1 187.5 L183.3 185.8Z" fill="url(#mesh)" stroke="none" stroke-width="0.0" />
<path d="M182.2 176.5 L205 300.5 M254.8 163.5 L270.5 297.5" fill="none" stroke="#151515" stroke-width="1.72" />
<path d="M254.8 165 L270.5 297.5 L267.3 298.5 L250.8 172 Z" fill="#fff" stroke="none" stroke-width="0.0" />
<path d="M250.8 172 L267.3 298.5" fill="none" stroke="#111" stroke-width="1.72" stroke-dasharray="1.4 1.5" stroke-linecap="butt"/>
<path d="M254.8 163.5 L270.5 297.5" fill="none" stroke="#151515" stroke-width="1.72" />
<path d="M270.8 296.8 L270.8 298.3 L270.3 299.9 L269.2 301.5 L267.7 303.2 L265.6 304.8 L263.2 306.4 L260.3 308 L257.1 309.4 L253.6 310.7 L249.8 311.9 L245.9 313 L241.9 313.8 L237.8 314.5 L233.8 314.9 L229.9 315.1 L226.1 315.2 L222.6 315 L219.4 314.6 L216.5 313.9 L214 313.1 L212 312.1 L210.4 311 L209.4 309.7 L208.8 308.2 L207.8 301.2 L208.4 302.7 L209.4 304 L211 305.1 L213 306.1 L215.5 306.9 L218.4 307.6 L221.6 308 L225.1 308.2 L228.9 308.1 L232.8 307.9 L236.8 307.5 L240.9 306.8 L244.9 306 L248.8 304.9 L252.6 303.7 L256.1 302.4 L259.3 301 L262.2 299.4 L264.6 297.8 L266.7 296.2 L268.2 294.5 L269.3 292.9 L269.8 291.3 L269.8 289.8Z" fill="#fff" stroke="#151515" stroke-width="1.15" />
<path d="M269.3 298.5 L268.2 299.9 L266.7 301.2 L265 302.6 L262.9 303.9 L260.5 305.2 L257.9 306.5 L255.1 307.6 L252.1 308.7 L248.9 309.6 L245.6 310.5 L242.3 311.2 L238.9 311.8 L235.5 312.2 L232.2 312.5 L228.9 312.7 L225.8 312.7 L222.9 312.5 L220.1 312.2 L217.6 311.8 L215.3 311.2 L213.4 310.5 L211.7 309.6 L210.4 308.7 L209.4 307.6" fill="none" stroke="#777" stroke-width="0.92" />
<path d="M270.8 296.8 L270.8 298.3 L270.3 299.9 L269.2 301.5 L267.7 303.2 L265.6 304.8 L263.2 306.4 L260.3 308 L257.1 309.4 L253.6 310.7 L249.8 311.9 L245.9 313 L241.9 313.8 L237.8 314.5 L233.8 314.9 L229.9 315.1 L226.1 315.2 L222.6 315 L219.4 314.6 L216.5 313.9 L214 313.1 L212 312.1 L210.4 311 L209.4 309.7 L208.8 308.2" fill="none" stroke="#151515" stroke-width="1.72" />
<path d="M206 300 L206.5 310.5 L211 312 L211 303 Z" fill="#fff" stroke="#151515" stroke-width="1.26" />
<path d="M203.9 190.4 L202.1 193.6 L205 196.1 L203.1 199.4 L206 201.8 L204.1 205.1 L207 207.5 L205.2 210.8 L208 213.2 L206.2 216.5 L209.1 218.9 L207.2 222.2 L210.1 224.6 L208.2 227.9 L211.1 230.3 L209.3 233.6 L212.1 236 L210.3 239.3 L213.2 241.7 L211.3 245 L214.2 247.5 L212.3 250.7 L215.2 253.2 L213.4 256.4 L216.2 258.9 L214.4 262.2 L217.3 264.6 L215.4 267.9 L218.3 270.3 L216.4 273.6 L219.3 276 L217.5 279.3 L220.3 281.7 L218.5 285 L221.4 287.4 L219.5 290.7 L222.4 293.1 L220.5 296.4 L223.4 298.8 L221.6 302.1 L224.4 304.5 L228.6 303.8 L230.4 300.5 L227.5 298.1 L229.4 294.8 L226.5 292.4 L228.4 289.1 L225.5 286.7 L227.3 283.4 L224.5 281 L226.3 277.7 L223.4 275.3 L225.3 272 L222.4 269.6 L224.3 266.3 L221.4 263.8 L223.2 260.6 L220.4 258.1 L222.2 254.9 L219.3 252.4 L221.2 249.1 L218.3 246.7 L220.2 243.4 L217.3 241 L219.1 237.7 L216.3 235.3 L218.1 232 L215.2 229.6 L217.1 226.3 L214.2 223.9 L216.1 220.6 L213.2 218.2 L215 214.9 L212.2 212.5 L214 209.2 L211.1 206.8 L213 203.5 L210.1 201 L212 197.8 L209.1 195.3 L210.9 192.1 L208.1 189.6Z" fill="#fff" stroke="none" stroke-width="0.0" />
<ellipse cx="194" cy="210" rx="7.5" ry="22.5" transform="rotate(-12 194 210)" fill="url(#mesh)" stroke="none" stroke-width="0.0" />
<path d="M190.7 188.1 L191.7 188.5 L192.8 189.3 L193.9 190.5 L195 192 L196.1 193.7 L197.2 195.7 L198.2 198 L199.1 200.4 L199.9 203 L200.7 205.7 L201.4 208.5 L201.9 211.3 L202.3 214.1 L202.6 216.8 L202.7 219.4 L202.7 221.9 L202.5 224.2 L202.2 226.2 L201.8 228 L201.3 229.4 L200.6 230.6 L199.8 231.4 L199 231.9 L198 232.1" fill="none" stroke="#151515" stroke-width="2.53" />
<path d="M198 232.1 L196.9 231.8 L195.8 231.2 L194.7 230.1 L193.5 228.8 L192.3 227 L191.2 225 L190.1 222.7 L189.1 220.1 L188.2 217.4 L187.4 214.6 L186.7 211.6 L186.1 208.7 L185.7 205.7 L185.4 202.9 L185.3 200.1 L185.3 197.6 L185.5 195.2 L185.9 193.2 L186.4 191.4 L187 190 L187.8 188.9 L188.7 188.2 L189.6 187.9 L190.7 188.1" fill="none" stroke="#151515" stroke-width="1.38" />
<path d="M189.5 194 L196.5 228" fill="none" stroke="#fff" stroke-width="1.72" stroke-dasharray="1.3 2.2" stroke-linecap="round"/>
<path d="M184.5 188 L186.5 187.5 L188 196 L186 197 Z" fill="#fff" stroke="none" stroke-width="0.0" />
<ellipse cx="218.5" cy="170.5" rx="37" ry="15" transform="rotate(-10.5 218.5 170.5)" fill="#fff" stroke="#151515" stroke-width="2.18" />
<clipPath id="bk"><ellipse cx="218.5" cy="170.8" rx="33" ry="12" transform="rotate(-10.5 218.5 170.8)"/></clipPath>
<g clip-path="url(#bk)">
<ellipse cx="219.5" cy="178.5" rx="33" ry="12.5" transform="rotate(-10.5 219.5 178.5)" fill="url(#mesh)" stroke="#151515" stroke-width="0.92" />
<path d="M230.4 164.2 L229.4 166.7 L231.1 168.9 L230 171.5 L231.7 173.7 L230.7 176.2 L232.4 178.4 L231.3 181 L236.3 180.3 L234.6 178.1 L235.6 175.5 L233.9 173.4 L235 170.8 L233.2 168.6 L234.3 166 L232.6 163.8Z" fill="#fff" stroke="none" stroke-width="0.0" />
</g>
<ellipse cx="218.5" cy="170.8" rx="33" ry="12" transform="rotate(-10.5 218.5 170.8)" fill="none" stroke="#151515" stroke-width="1.95" />
<g transform="translate(-2.5 0.5)">
<path d="M159 355.7 L173.3 353.5 L174.6 353.4 L175.9 353.9 L177.4 354.8 L178.8 356.1 L180.3 357.9 L181.7 360.1 L183.2 362.7 L184.5 365.6 L185.8 368.7 L186.9 372 L188 375.6 L188.9 379.2 L189.6 382.8 L190.1 386.4 L190.5 390 L190.7 393.4 L190.7 396.6 L190.5 399.5 L190.1 402.1 L189.5 404.3 L188.8 406.2 L187.9 407.6 L186.9 408.6 L185.7 409.1 L171.8 413.3Z" fill="#151515" stroke="none" stroke-width="0.0" />
<path d="M159 355.7 L173.3 353.5 L174.6 353.4 L175.9 353.9 L177.4 354.8 L178.8 356.1 L180.3 357.9 L181.7 360.1 L183.2 362.7 L184.5 365.6 L185.8 368.7 L186.9 372 L188 375.6 L188.9 379.2 L189.6 382.8 L190.1 386.4 L190.5 390 L190.7 393.4 L190.7 396.6 L190.5 399.5 L190.1 402.1 L189.5 404.3 L188.8 406.2 L187.9 407.6 L186.9 408.6 L185.7 409.1 L171.8 413.3" fill="none" stroke="#151515" stroke-width="1.55" />
<path d="M162.8 355.9 L174.9 354.1" fill="none" stroke="#fff" stroke-width="0.96" stroke-linecap="butt"/>
<path d="M165 357.5 L177.1 355.6" fill="none" stroke="#fff" stroke-width="1.39" stroke-linecap="butt"/>
<path d="M167.4 360.2 L179.4 358.2" fill="none" stroke="#fff" stroke-width="1.84" stroke-linecap="butt"/>
<path d="M169.7 363.9 L181.7 361.8" fill="none" stroke="#fff" stroke-width="2.25" stroke-linecap="butt"/>
<path d="M171.9 368.4 L183.8 366.1" fill="none" stroke="#fff" stroke-width="2.6" stroke-linecap="butt"/>
<path d="M173.8 373.6 L185.7 371.2" fill="none" stroke="#fff" stroke-width="2.85" stroke-linecap="butt"/>
<path d="M175.5 379.2 L187.3 376.6" fill="none" stroke="#fff" stroke-width="2.97" stroke-linecap="butt"/>
<path d="M176.8 385 L188.5 382.3" fill="none" stroke="#fff" stroke-width="2.97" stroke-linecap="butt"/>
<path d="M177.6 390.8 L189.4 387.9" fill="none" stroke="#fff" stroke-width="2.85" stroke-linecap="butt"/>
<path d="M178 396.3 L189.8 393.2" fill="none" stroke="#fff" stroke-width="2.6" stroke-linecap="butt"/>
<path d="M178 401.3 L189.7 398.1" fill="none" stroke="#fff" stroke-width="2.25" stroke-linecap="butt"/>
<path d="M177.4 405.6 L189.2 402.3" fill="none" stroke="#fff" stroke-width="1.84" stroke-linecap="butt"/>
<path d="M176.5 409.1 L188.2 405.6" fill="none" stroke="#fff" stroke-width="1.39" stroke-linecap="butt"/>
<path d="M175.1 411.4 L186.8 407.9" fill="none" stroke="#fff" stroke-width="0.96" stroke-linecap="butt"/>
<ellipse cx="165.4" cy="384.5" rx="29.5" ry="9.8" transform="rotate(77.5 165.4 384.5)" fill="#fff" stroke="#151515" stroke-width="2.07" />
<ellipse cx="164.6" cy="384.8" rx="26.3" ry="7.6" transform="rotate(77.5 164.6 384.8)" fill="#fff" stroke="#151515" stroke-width="1.49" />
<path d="M159.6 359.1 L160.6 359.3 L161.7 360 L162.8 361 L163.9 362.4 L165.1 364.2 L166.2 366.2 L167.3 368.6 L168.4 371.2 L169.5 374 L170.4 376.9 L171.3 380 L172 383.2 L172.7 386.3 L173.2 389.5 L173.6 392.6 L173.8 395.5 L173.9 398.3 L173.9 400.9 L173.7 403.3 L173.4 405.3 L173 407.1 L172.4 408.5 L171.7 409.6 L170.9 410.2 L168.7 408.4 L169.2 407.9 L169.7 406.9 L170.1 405.7 L170.3 404.1 L170.5 402.3 L170.5 400.1 L170.5 397.8 L170.3 395.3 L170 392.6 L169.6 389.8 L169.1 386.9 L168.5 384 L167.8 381.1 L167 378.3 L166.2 375.6 L165.3 373 L164.4 370.6 L163.5 368.5 L162.6 366.6 L161.7 365 L160.8 363.6 L159.9 362.7 L159.1 362 L158.3 361.8Z" fill="#2a2a2a" stroke="#151515" stroke-width="0.92" />
<path d="M160.9 361.4 L161.7 362.2 L162.5 363.3 L163.4 364.6 L164.3 366.1 L165.1 367.8 L165.9 369.7 L166.8 371.8 L167.6 373.9 L168.3 376.2 L169 378.6 L169.7 381.1 L170.2 383.6 L170.8 386.1 L171.2 388.6 L171.6 391 L171.9 393.4 L172.1 395.7 L172.2 397.9 L172.2 400 L172.2 401.9 L172 403.6 L171.8 405.2 L171.5 406.5 L171.1 407.6" fill="none" stroke="#ddd" stroke-width="0.8" />
<ellipse cx="163" cy="385.2" rx="24" ry="5.6" transform="rotate(77.5 163 385.2)" fill="none" stroke="#151515" stroke-width="1.15" />
</g>
<ellipse cx="139" cy="396" rx="22.5" ry="8.5" transform="rotate(76 139 396)" fill="none" stroke="#333" stroke-width="1.26" />
<ellipse cx="139" cy="396" rx="20.3" ry="6.8" transform="rotate(76 139 396)" fill="none" stroke="#333" stroke-width="1.15" />
<path d="M107.8 382.5 L112.3 381.2 L113.6 381 L114.9 381.3 L116.3 382 L117.7 383 L119.1 384.5 L120.6 386.3 L121.9 388.4 L123.2 390.8 L124.4 393.4 L125.5 396.2 L126.5 399.2 L127.3 402.3 L128 405.4 L128.5 408.6 L128.8 411.6 L128.9 414.6 L128.9 417.4 L128.6 419.9 L128.2 422.3 L127.6 424.3 L126.8 426 L125.9 427.3 L124.9 428.3 L123.7 428.8 L119.2 430.1Z" fill="#fff" stroke="none" stroke-width="0.0" />
<path d="M107.8 382.5 L112.3 381.2 L113.6 381 L114.9 381.3 L116.3 382 L117.7 383 L119.1 384.5 L120.6 386.3 L121.9 388.4 L123.2 390.8 L124.4 393.4 L125.5 396.2 L126.5 399.2 L127.3 402.3 L128 405.4 L128.5 408.6 L128.8 411.6 L128.9 414.6 L128.9 417.4 L128.6 419.9 L128.2 422.3 L127.6 424.3 L126.8 426 L125.9 427.3 L124.9 428.3 L123.7 428.8 L119.2 430.1" fill="none" stroke="#151515" stroke-width="1.55" />
<path d="M92.7 389.1 L108.2 384.6 L109.4 384.5 L110.7 384.7 L112 385.3 L113.3 386.3 L114.6 387.6 L115.9 389.3 L117.2 391.2 L118.4 393.4 L119.5 395.8 L120.5 398.4 L121.4 401.2 L122.2 404 L122.8 406.9 L123.2 409.7 L123.5 412.5 L123.6 415.3 L123.6 417.8 L123.3 420.2 L122.9 422.3 L122.4 424.2 L121.7 425.7 L120.8 427 L119.8 427.9 L118.8 428.4 L103.3 432.9Z" fill="#fff" stroke="none" stroke-width="0.0" />
<path d="M92.7 389.1 L108.2 384.6 L109.4 384.5 L110.7 384.7 L112 385.3 L113.3 386.3 L114.6 387.6 L115.9 389.3 L117.2 391.2 L118.4 393.4 L119.5 395.8 L120.5 398.4 L121.4 401.2 L122.2 404 L122.8 406.9 L123.2 409.7 L123.5 412.5 L123.6 415.3 L123.6 417.8 L123.3 420.2 L122.9 422.3 L122.4 424.2 L121.7 425.7 L120.8 427 L119.8 427.9 L118.8 428.4 L103.3 432.9" fill="none" stroke="#151515" stroke-width="1.55" />
<path d="M108.8 382.6 L110.1 382.8 L111.4 383.3 L112.7 384.2 L114.1 385.5 L115.4 387 L116.7 388.9 L118 391 L119.2 393.3 L120.3 395.9 L121.3 398.6 L122.2 401.5 L123 404.4 L123.6 407.4 L124 410.3 L124.3 413.2 L124.4 416 L124.4 418.7 L124.2 421.1 L123.8 423.4 L123.3 425.3 L122.6 427 L121.8 428.4 L120.9 429.5 L119.8 430.2" fill="none" stroke="#151515" stroke-width="1.26" />
<ellipse cx="98" cy="411" rx="22.5" ry="9" transform="rotate(77 98 411)" fill="#fff" stroke="#151515" stroke-width="1.72" />
<ellipse cx="98.8" cy="411" rx="20" ry="7.3" transform="rotate(77 98.8 411)" fill="#fff" stroke="#151515" stroke-width="1.15" />
<path d="M52.9 406.1 L68.4 401.1 L69.4 400.9 L70.4 401.1 L71.6 401.6 L72.7 402.4 L73.8 403.5 L75 404.9 L76.1 406.6 L77.1 408.5 L78.1 410.5 L79 412.8 L79.8 415.1 L80.4 417.6 L81 420.1 L81.4 422.6 L81.7 425 L81.8 427.4 L81.7 429.6 L81.5 431.7 L81.2 433.6 L80.7 435.2 L80.1 436.6 L79.4 437.7 L78.6 438.5 L77.6 438.9 L62.1 443.9Z" fill="#fff" stroke="none" stroke-width="0.0" />
<path d="M52.9 406.1 L68.4 401.1 L69.4 400.9 L70.4 401.1 L71.6 401.6 L72.7 402.4 L73.8 403.5 L75 404.9 L76.1 406.6 L77.1 408.5 L78.1 410.5 L79 412.8 L79.8 415.1 L80.4 417.6 L81 420.1 L81.4 422.6 L81.7 425 L81.8 427.4 L81.7 429.6 L81.5 431.7 L81.2 433.6 L80.7 435.2 L80.1 436.6 L79.4 437.7 L78.6 438.5 L77.6 438.9 L62.1 443.9" fill="none" stroke="#151515" stroke-width="1.55" />
<ellipse cx="57.5" cy="425" rx="19.5" ry="7.8" transform="rotate(77 57.5 425)" fill="#fff" stroke="#151515" stroke-width="1.72" />
<ellipse cx="58.3" cy="425" rx="17.3" ry="6.2" transform="rotate(77 58.3 425)" fill="#fff" stroke="#151515" stroke-width="1.15" />
<path d="M188.5 473 L194.5 470 L199.5 472 L201.5 480.5 L197 485.5 L191 484 L188 477 Z" fill="#1a1a1a" stroke="#151515" stroke-width="1.49" />
<path d="M189.7 474.5 L193 473.2 L195 482.3 L191.5 483 Z" fill="#fff" stroke="#151515" stroke-width="0.69" />
<path d="M193 473.2 L195 482.3" fill="none" stroke="#151515" stroke-width="1.15" />
<ellipse cx="210.5" cy="472.5" rx="1.8" ry="3.3" transform="rotate(-15 210.5 472.5)" fill="#999" stroke="#444" stroke-width="1.15" />
<path d="M334 438 L337.5 433.5 L345 431.5 L348 436 L350 446 L344 449.5 L337 447 Z" fill="#fff" stroke="#151515" stroke-width="1.49" />
<ellipse cx="340.8" cy="441" rx="3.6" ry="6.6" transform="rotate(-20 340.8 441)" fill="#1a1a1a" stroke="#151515" stroke-width="1.15" />
<path d="M342 435.5 L351 438.5 L353.5 447 L344 447.5" fill="#888" stroke="#151515" stroke-width="1.26" />
<ellipse cx="343.5" cy="441.5" rx="1.6" ry="3" transform="rotate(-20 343.5 441.5)" fill="#ddd" stroke="#151515" stroke-width="0.69" />
<path d="M351 438.5 L356 441 L356.5 447 L353.5 447" fill="#fff" stroke="#151515" stroke-width="1.03" />
<ellipse cx="360" cy="450" rx="6.3" ry="7.3" transform="rotate(-15 360 450)" fill="#1a1a1a" stroke="#151515" stroke-width="1.38" />
<ellipse cx="361.5" cy="450.5" rx="3.4" ry="4.2" transform="rotate(-15 361.5 450.5)" fill="#fff" stroke="#151515" stroke-width="0.92" />
<ellipse cx="361.7" cy="450.7" rx="1.2" ry="1.6" transform="rotate(-15 361.7 450.7)" fill="#888" stroke="#151515" stroke-width="0.57" />
<ellipse cx="379" cy="356" rx="26.5" ry="10.2" transform="rotate(77.6 379 356)" fill="none" stroke="#3a3a3a" stroke-width="1.49" />
<ellipse cx="379" cy="356" rx="24.1" ry="8.2" transform="rotate(77.6 379 356)" fill="none" stroke="#3a3a3a" stroke-width="1.49" />
<path d="M402.3 288 L411.7 288.1 L414.5 288.2 L417.4 289.3 L420.3 291.2 L423.2 294 L426.1 297.6 L428.8 301.9 L431.3 306.9 L433.7 312.5 L435.8 318.6 L437.7 325 L439.2 331.8 L440.4 338.7 L441.2 345.6 L441.7 352.4 L441.8 359.1 L441.5 365.4 L440.8 371.4 L439.8 376.8 L438.4 381.6 L436.7 385.7 L434.7 389 L432.4 391.5 L429.9 393.2 L427.3 393.9 L418.3 396Z" fill="#fff" stroke="none" stroke-width="0.0" />
<path d="M402.3 288 L411.7 288.1 L414.5 288.2 L417.4 289.3 L420.3 291.2 L423.2 294 L426.1 297.6 L428.8 301.9 L431.3 306.9 L433.7 312.5 L435.8 318.6 L437.7 325 L439.2 331.8 L440.4 338.7 L441.2 345.6 L441.7 352.4 L441.8 359.1 L441.5 365.4 L440.8 371.4 L439.8 376.8 L438.4 381.6 L436.7 385.7 L434.7 389 L432.4 391.5 L429.9 393.2 L427.3 393.9 L418.3 396" fill="none" stroke="#151515" stroke-width="1.55" />
<path d="M415.5 292.5 L421 294.5 L422 297 M429.5 312 L432 311.5 L432.5 314 M423.5 327.5 L436 324.5 L435.5 320.5 L424.5 323 M439.5 336 L429.5 339 M440.5 351.5 L431 354.5 M432 362 L443.7 359 L442.5 369.5 L432 372 M439.5 379 L430 381 M426 388 L434.5 386.5" fill="none" stroke="#151515" stroke-width="1.26" />
<ellipse cx="410.3" cy="342" rx="54.6" ry="19.6" transform="rotate(81.3 410.3 342)" fill="#fff" stroke="#151515" stroke-width="1.72" />
<ellipse cx="409.3" cy="342.5" rx="51" ry="17.5" transform="rotate(81.3 409.3 342.5)" fill="none" stroke="#151515" stroke-width="1.15" />
<path d="M392 304 Q392 294 400 292 Q406 292 406 301 Q405 308 399 312 Z" fill="#fff" stroke="#151515" stroke-width="1.26" />
<path d="M391.5 305 L397 318 L402 306 M399 318 L405.5 302 M406 301 L411 316 M392 318 L397 318 M390 312 L393 322" fill="none" stroke="#151515" stroke-width="1.26" />
<path d="M411 289 L414 300 L419 310 L423 325" fill="none" stroke="#151515" stroke-width="1.15" />
<path d="M395.1 320.6 L410.1 316.6 L411.6 316.5 L413.2 316.8 L414.8 317.5 L416.5 318.7 L418.1 320.3 L419.7 322.3 L421.3 324.6 L422.7 327.3 L424 330.2 L425.2 333.3 L426.3 336.6 L427.1 340 L427.8 343.5 L428.3 347 L428.5 350.3 L428.6 353.6 L428.4 356.7 L428 359.5 L427.4 362.1 L426.6 364.3 L425.7 366.2 L424.5 367.7 L423.3 368.7 L421.9 369.4 L406.9 373.4Z" fill="#fff" stroke="none" stroke-width="0.0" />
<path d="M395.1 320.6 L410.1 316.6 L411.6 316.5 L413.2 316.8 L414.8 317.5 L416.5 318.7 L418.1 320.3 L419.7 322.3 L421.3 324.6 L422.7 327.3 L424 330.2 L425.2 333.3 L426.3 336.6 L427.1 340 L427.8 343.5 L428.3 347 L428.5 350.3 L428.6 353.6 L428.4 356.7 L428 359.5 L427.4 362.1 L426.6 364.3 L425.7 366.2 L424.5 367.7 L423.3 368.7 L421.9 369.4 L406.9 373.4" fill="none" stroke="#151515" stroke-width="1.55" />
<path d="M394.4 323.5 L398.9 322.5 L400.2 322.5 L401.6 322.8 L403.1 323.5 L404.5 324.6 L406 326.1 L407.4 328 L408.8 330.2 L410.1 332.6 L411.2 335.3 L412.3 338.2 L413.2 341.2 L414 344.3 L414.5 347.4 L414.9 350.6 L415.2 353.6 L415.2 356.6 L415 359.3 L414.7 361.9 L414.1 364.2 L413.4 366.1 L412.6 367.8 L411.5 369.1 L410.4 370 L409.1 370.5 L404.6 371.5Z" fill="#fff" stroke="none" stroke-width="0.0" />
<path d="M394.4 323.5 L398.9 322.5 L400.2 322.5 L401.6 322.8 L403.1 323.5 L404.5 324.6 L406 326.1 L407.4 328 L408.8 330.2 L410.1 332.6 L411.2 335.3 L412.3 338.2 L413.2 341.2 L414 344.3 L414.5 347.4 L414.9 350.6 L415.2 353.6 L415.2 356.6 L415 359.3 L414.7 361.9 L414.1 364.2 L413.4 366.1 L412.6 367.8 L411.5 369.1 L410.4 370 L409.1 370.5 L404.6 371.5" fill="none" stroke="#151515" stroke-width="1.55" />
<ellipse cx="399.5" cy="347.5" rx="24.5" ry="10.2" transform="rotate(78 399.5 347.5)" fill="#fff" stroke="#151515" stroke-width="1.72" />
<ellipse cx="400" cy="347.5" rx="21.5" ry="8.2" transform="rotate(78 400 347.5)" fill="#fff" stroke="#151515" stroke-width="1.26" />
<ellipse cx="401.2" cy="347.2" rx="18" ry="6" transform="rotate(78 401.2 347.2)" fill="#fff" stroke="#151515" stroke-width="1.15" />
<path d="M398.5 329.6 L399.3 330 L400.1 330.5 L400.9 331.3 L401.7 332.3 L402.5 333.5 L403.3 334.9 L404 336.5 L404.8 338.2 L405.4 340 L406 341.9 L406.6 343.9 L407.1 346 L407.5 348 L407.8 350 L408 352 L408.1 354 L408.2 355.8 L408.1 357.6 L407.9 359.2 L407.7 360.6 L407.4 361.8 L407 362.9 L406.5 363.7 L405.9 364.3" fill="none" stroke="#555" stroke-width="2.3" />
<path d="M413 342.5 L423.5 338.5" fill="none" stroke="#111" stroke-width="2.99" />
<path d="M424 330 L426 346" fill="none" stroke="#151515" stroke-width="1.38" />
<path d="M404 371.5 L410.5 388 L416.5 384.5 L409 369 Z" fill="#fff" stroke="#151515" stroke-width="1.38" />
<path d="M416.5 384.5 L417.5 375.5 L414 368" fill="none" stroke="#151515" stroke-width="1.26" />
<path d="M417.5 375.5 L418.5 390 Q422.5 394.5 428.5 392.5 L431.5 383.5" fill="#fff" stroke="#151515" stroke-width="1.49" />
<path d="M416 366.8 L432 381.8" fill="none" stroke="#151515" stroke-width="2.76" />
<path d="M419.5 365.5 L440.5 377.5 M423 363 L432.5 369.5" fill="none" stroke="#151515" stroke-width="1.26" />
<path d="M428.5 392.5 L437 388.5 L438 384 L431.5 383.5" fill="#fff" stroke="#151515" stroke-width="1.15" />
<path d="M432 372.5 L440.5 370.5 M432 379 L440 377.5" fill="none" stroke="#151515" stroke-width="1.15" />
<path d="M454.9 303.6 L458.2 302.9 L459.4 302.9 L460.6 303.2 L461.8 303.9 L463 305 L464.3 306.4 L465.5 308.2 L466.6 310.2 L467.7 312.5 L468.7 315 L469.6 317.6 L470.4 320.4 L471 323.3 L471.5 326.2 L471.9 329.1 L472 331.9 L472.1 334.6 L471.9 337.2 L471.6 339.5 L471.2 341.6 L470.6 343.4 L469.9 344.9 L469 346.1 L468 346.9 L467 347.3 L463.7 348Z" fill="#fff" stroke="none" stroke-width="0.0" />
<path d="M454.9 303.6 L458.2 302.9 L459.4 302.9 L460.6 303.2 L461.8 303.9 L463 305 L464.3 306.4 L465.5 308.2 L466.6 310.2 L467.7 312.5 L468.7 315 L469.6 317.6 L470.4 320.4 L471 323.3 L471.5 326.2 L471.9 329.1 L472 331.9 L472.1 334.6 L471.9 337.2 L471.6 339.5 L471.2 341.6 L470.6 343.4 L469.9 344.9 L469 346.1 L468 346.9 L467 347.3 L463.7 348" fill="none" stroke="#151515" stroke-width="1.55" />
<path d="M458.4 303.3 L459.5 303.7 L460.6 304.4 L461.7 305.4 L462.8 306.6 L463.9 308.1 L464.9 309.9 L465.9 311.8 L466.8 314 L467.7 316.3 L468.4 318.7 L469.1 321.2 L469.6 323.8 L470.1 326.3 L470.4 328.9 L470.6 331.4 L470.7 333.9 L470.6 336.2 L470.4 338.4 L470.1 340.4 L469.7 342.2 L469.2 343.8 L468.5 345.1 L467.8 346.2 L466.9 347" fill="none" stroke="#666" stroke-width="0.92" />
<ellipse cx="459.3" cy="325.8" rx="22.6" ry="8.6" transform="rotate(79 459.3 325.8)" fill="#fff" stroke="#151515" stroke-width="1.72" />
<ellipse cx="460.1" cy="325.8" rx="20" ry="6.7" transform="rotate(79 460.1 325.8)" fill="#fff" stroke="#151515" stroke-width="1.26" />
<path d="M459.8 307.3 L460.6 307.8 L461.3 308.5 L462.1 309.5 L462.8 310.6 L463.5 311.9 L464.3 313.3 L465 314.9 L465.6 316.7 L466.2 318.5 L466.8 320.4 L467.3 322.4 L467.7 324.5 L468 326.5 L468.3 328.5 L468.5 330.5 L468.7 332.4 L468.7 334.3 L468.7 336 L468.6 337.7 L468.4 339.2 L468.1 340.5 L467.7 341.6 L467.3 342.6 L466.8 343.3" fill="none" stroke="#151515" stroke-width="1.03" />
<ellipse cx="484.5" cy="315" rx="4.6" ry="8.6" transform="rotate(-14 484.5 315)" fill="#222" stroke="#151515" stroke-width="1.38" />
<path d="M476.5 311.5 L479.5 308.5 L484 308.5 L486.5 312 L487 319 L484.5 322.5 L480 323.3 L477 320.5 Z" fill="#fff" stroke="#151515" stroke-width="1.49" />
<ellipse cx="479.6" cy="316.2" rx="3.6" ry="6.2" transform="rotate(-12 479.6 316.2)" fill="#fff" stroke="#151515" stroke-width="1.49" />
<ellipse cx="479.8" cy="316.2" rx="1.6" ry="3" transform="rotate(-12 479.8 316.2)" fill="#fff" stroke="#151515" stroke-width="1.03" />
<path d="M482.5 310 L483.2 321.5" fill="none" stroke="#151515" stroke-width="1.03" />
<ellipse cx="502.5" cy="308" rx="6" ry="3" transform="rotate(80 502.5 308)" fill="#222" stroke="#151515" stroke-width="1.15" />
<ellipse cx="502.3" cy="308" rx="3.2" ry="1.3" transform="rotate(80 502.3 308)" fill="#fff" stroke="#151515" stroke-width="0.69" />
<ellipse cx="518" cy="302.5" rx="7.8" ry="4" transform="rotate(78 518 302.5)" fill="#fff" stroke="#333" stroke-width="1.49" />
<ellipse cx="518.3" cy="302.5" rx="5.8" ry="2.6" transform="rotate(78 518.3 302.5)" fill="#fff" stroke="#333" stroke-width="1.15" />
<path d="M553 279.5 L570.5 275.5 Q573 276 573.5 278 L574 285.5 Q573.5 288 571 288.5 L555 291.5 Z" fill="#fff" stroke="#151515" stroke-width="1.61" />
<path d="M556 285.5 L573 281.5" fill="none" stroke="#151515" stroke-width="1.15" />
<path d="M536.3 254.6 L539.8 253.8 L541.7 253.7 L543.6 254.2 L545.7 255.4 L547.8 257.1 L549.8 259.4 L551.9 262.3 L553.9 265.6 L555.7 269.3 L557.5 273.4 L559.1 277.8 L560.5 282.4 L561.6 287.1 L562.6 291.9 L563.3 296.6 L563.7 301.2 L563.9 305.7 L563.8 309.9 L563.4 313.7 L562.8 317.2 L561.9 320.2 L560.8 322.6 L559.4 324.5 L557.9 325.9 L556.2 326.6 L552.7 327.4Z" fill="#fff" stroke="none" stroke-width="0.0" />
<path d="M536.3 254.6 L539.8 253.8 L541.7 253.7 L543.6 254.2 L545.7 255.4 L547.8 257.1 L549.8 259.4 L551.9 262.3 L553.9 265.6 L555.7 269.3 L557.5 273.4 L559.1 277.8 L560.5 282.4 L561.6 287.1 L562.6 291.9 L563.3 296.6 L563.7 301.2 L563.9 305.7 L563.8 309.9 L563.4 313.7 L562.8 317.2 L561.9 320.2 L560.8 322.6 L559.4 324.5 L557.9 325.9 L556.2 326.6 L552.7 327.4" fill="none" stroke="#151515" stroke-width="1.55" />
<ellipse cx="544.5" cy="291" rx="37.3" ry="14" transform="rotate(77.4 544.5 291)" fill="#fff" stroke="#151515" stroke-width="1.84" />
<path d="M550.3 272.1 L552.7 277.9 L554.6 284.2 L556.2 290.7 L557.2 297.3 L557.8 303.7 L557.8 309.6 L557.3 314.8 L556.3 319 L554.8 322.2 L552.8 324.2 L550.5 325 L548 324.4 L545.3 322.6 L542.5 319.5 L539.8 315.4 L537.3 310.3 L534.9 304.5 L533 298.2 L531.4 291.7 L530.4 285.1 L529.8 278.7 L529.8 272.8 L530.3 267.6 L531.3 263.4" fill="none" stroke="#151515" stroke-width="1.15" />
<path d="M555.8 305 L555.8 308.5 L555.6 311.8 L555.2 314.7 L554.5 317.3 L553.7 319.4 L552.7 321 L551.5 322.1 L550.2 322.6 L548.7 322.7 L547.2 322.2 L545.6 321.2 L544 319.6 L542.3 317.6 L540.7 315.1 L539.1 312.3 L537.6 309.1 L536.1 305.5 L534.8 301.8 L533.7 297.8 L532.7 293.8 L531.8 289.7 L531.2 285.6 L530.8 281.6 L530.6 277.8" fill="none" stroke="#151515" stroke-width="1.03" />
<path d="M527.5 275 L536.5 273 L537.6 272.9 L538.8 273.2 L540 273.8 L541.2 274.8 L542.4 276 L543.6 277.6 L544.7 279.4 L545.8 281.4 L546.8 283.7 L547.7 286.1 L548.4 288.6 L549.1 291.2 L549.6 293.8 L550 296.4 L550.2 299 L550.3 301.4 L550.1 303.8 L549.9 305.9 L549.5 307.8 L548.9 309.4 L548.2 310.8 L547.4 311.9 L546.5 312.6 L545.5 313 L536.5 315Z" fill="#fff" stroke="none" stroke-width="0.0" />
<path d="M527.5 275 L536.5 273 L537.6 272.9 L538.8 273.2 L540 273.8 L541.2 274.8 L542.4 276 L543.6 277.6 L544.7 279.4 L545.8 281.4 L546.8 283.7 L547.7 286.1 L548.4 288.6 L549.1 291.2 L549.6 293.8 L550 296.4 L550.2 299 L550.3 301.4 L550.1 303.8 L549.9 305.9 L549.5 307.8 L548.9 309.4 L548.2 310.8 L547.4 311.9 L546.5 312.6 L545.5 313 L536.5 315" fill="none" stroke="#151515" stroke-width="1.55" />
<ellipse cx="532" cy="295" rx="20.5" ry="8.3" transform="rotate(77.4 532 295)" fill="#fff" stroke="#151515" stroke-width="1.61" />
<ellipse cx="532.6" cy="295" rx="18" ry="6.6" transform="rotate(77.4 532.6 295)" fill="#fff" stroke="#151515" stroke-width="1.15" />
<ellipse cx="533.5" cy="294.8" rx="15" ry="4.8" transform="rotate(77.4 533.5 294.8)" fill="#fff" stroke="#151515" stroke-width="1.03" />
<path d="M536 285 L538.5 299 M537 281.5 L541 300 M538.5 288 L540 304 M535 290 L537 306" fill="none" stroke="#222" stroke-width="1.49" stroke-dasharray="1.2 1.2"/>
<path d="M531.1 280.2 L531.7 280.5 L532.4 280.9 L533 281.6 L533.7 282.4 L534.3 283.4 L535 284.6 L535.6 285.9 L536.2 287.3 L536.8 288.8 L537.3 290.4 L537.8 292.1 L538.2 293.8 L538.5 295.5 L538.8 297.2 L539 298.8 L539.2 300.4 L539.2 302 L539.2 303.4 L539.1 304.7 L538.9 305.9 L538.7 307 L538.4 307.8 L538 308.5 L537.5 309" fill="none" stroke="#555" stroke-width="1.72" />
<path d="M541 311 L545 310 L545 314 L541 315 Z" fill="#333" stroke="#151515" stroke-width="0.92" />
<path d="M581.1 267.3 L592.6 262.8 L593.2 262.7 L593.8 262.7 L594.4 262.9 L595.1 263.3 L595.7 263.8 L596.4 264.5 L597 265.3 L597.5 266.2 L598.1 267.2 L598.6 268.4 L599 269.6 L599.3 270.8 L599.6 272.1 L599.8 273.4 L599.9 274.6 L600 275.9 L599.9 277 L599.8 278.1 L599.6 279.1 L599.3 280 L598.9 280.8 L598.5 281.4 L598 281.9 L597.4 282.2 L585.9 286.7Z" fill="#2a2a2a" stroke="none" stroke-width="0.0" />
<path d="M581.1 267.3 L592.6 262.8 L593.2 262.7 L593.8 262.7 L594.4 262.9 L595.1 263.3 L595.7 263.8 L596.4 264.5 L597 265.3 L597.5 266.2 L598.1 267.2 L598.6 268.4 L599 269.6 L599.3 270.8 L599.6 272.1 L599.8 273.4 L599.9 274.6 L600 275.9 L599.9 277 L599.8 278.1 L599.6 279.1 L599.3 280 L598.9 280.8 L598.5 281.4 L598 281.9 L597.4 282.2 L585.9 286.7" fill="none" stroke="#151515" stroke-width="1.55" />
<path d="M584.2 266.4 L584.8 266.6 L585.4 266.8 L585.9 267.3 L586.5 267.8 L587.1 268.4 L587.6 269.2 L588.1 270 L588.6 271 L589 272 L589.4 273 L589.7 274.1 L590 275.2 L590.2 276.4 L590.4 277.5 L590.4 278.6 L590.5 279.7 L590.4 280.8 L590.3 281.8 L590.1 282.7 L589.9 283.5 L589.6 284.2 L589.2 284.8 L588.8 285.3 L588.3 285.7" fill="none" stroke="#bbb" stroke-width="0.92" />
<path d="M586.2 265.6 L586.8 265.8 L587.4 266 L587.9 266.5 L588.5 267 L589.1 267.6 L589.6 268.4 L590.1 269.2 L590.6 270.2 L591 271.2 L591.4 272.2 L591.7 273.3 L592 274.4 L592.2 275.6 L592.4 276.7 L592.4 277.8 L592.5 278.9 L592.4 280 L592.3 281 L592.1 281.9 L591.9 282.7 L591.6 283.4 L591.2 284 L590.8 284.5 L590.3 284.9" fill="none" stroke="#bbb" stroke-width="0.92" />
<path d="M588.2 264.8 L588.8 265 L589.4 265.2 L589.9 265.7 L590.5 266.2 L591.1 266.8 L591.6 267.6 L592.1 268.4 L592.6 269.4 L593 270.4 L593.4 271.4 L593.7 272.5 L594 273.6 L594.2 274.8 L594.4 275.9 L594.4 277 L594.5 278.1 L594.4 279.2 L594.3 280.2 L594.1 281.1 L593.9 281.9 L593.6 282.6 L593.2 283.2 L592.8 283.7 L592.3 284.1" fill="none" stroke="#bbb" stroke-width="0.92" />
<path d="M590.2 264 L590.8 264.2 L591.4 264.4 L591.9 264.9 L592.5 265.4 L593.1 266 L593.6 266.8 L594.1 267.6 L594.6 268.6 L595 269.6 L595.4 270.6 L595.7 271.7 L596 272.8 L596.2 274 L596.4 275.1 L596.4 276.2 L596.5 277.3 L596.4 278.4 L596.3 279.4 L596.1 280.3 L595.9 281.1 L595.6 281.8 L595.2 282.4 L594.8 282.9 L594.3 283.3" fill="none" stroke="#bbb" stroke-width="0.92" />
<path d="M592.2 263.2 L592.8 263.4 L593.4 263.6 L593.9 264.1 L594.5 264.6 L595.1 265.2 L595.6 266 L596.1 266.8 L596.6 267.8 L597 268.8 L597.4 269.8 L597.7 270.9 L598 272 L598.2 273.2 L598.4 274.3 L598.4 275.4 L598.5 276.5 L598.4 277.6 L598.3 278.6 L598.1 279.5 L597.9 280.3 L597.6 281 L597.2 281.6 L596.8 282.1 L596.3 282.5" fill="none" stroke="#bbb" stroke-width="0.92" />
<path d="M592.9 262.7 L593.5 262.7 L594.2 262.8 L594.8 263.1 L595.4 263.6 L596.1 264.2 L596.7 264.9 L597.3 265.8 L597.9 266.8 L598.4 267.9 L598.8 269 L599.2 270.3 L599.5 271.5 L599.7 272.8 L599.9 274.1 L600 275.4 L599.9 276.6 L599.8 277.7 L599.7 278.7 L599.4 279.7 L599.1 280.5 L598.6 281.2 L598.2 281.7 L597.6 282.1 L597.1 282.3" fill="none" stroke="#111" stroke-width="1.84" />
<ellipse cx="583.5" cy="277" rx="10" ry="4.6" transform="rotate(78 583.5 277)" fill="#1a1a1a" stroke="#151515" stroke-width="1.61" />
<ellipse cx="583.2" cy="277" rx="7.5" ry="2.8" transform="rotate(78 583.2 277)" fill="#fff" stroke="#151515" stroke-width="0.92" />
<ellipse cx="583.6" cy="277" rx="5.3" ry="1.7" transform="rotate(78 583.6 277)" fill="#444" stroke="#151515" stroke-width="0.69" />
<path d="M596 191.5 Q594 193 594.5 196 L596 200 L600 250 Q603 272 612.5 295 Q622 315 633 318 Q642 320 646 312 Q649 304 647 295 L640 262.5 L632.5 225 L630.5 217 Q628 214 626 214.5 Q623.5 214 622.5 210 L617.5 200.5 L603 190 Q601 189 600.5 191.5 Q600 194.5 598 194 Q597 191 596 191.5 Z" fill="none" stroke="#111" stroke-width="3.1" />
<path d="M596 191.5 Q594 193 594.5 196 L596 200 L600 250 Q603 272 612.5 295 Q622 315 633 318 Q642 320 646 312 Q649 304 647 295 L640 262.5 L632.5 225 L630.5 217 Q628 214 626 214.5 Q623.5 214 622.5 210 L617.5 200.5 L603 190 Q601 189 600.5 191.5 Q600 194.5 598 194 Q597 191 596 191.5 Z" fill="none" stroke="#999" stroke-width="0.69" />
<path d="M644 165 Q644.5 161.5 648 160.5 L657.5 159 Q664 159.5 669 162.5 L679 172 L689 181 L692.5 191 L695 206 L700 215 L703 228 L707 246 L712 262 L713 275 L711 290 L706.5 300 L727.5 302.5 L726 312.5 L701 321 L661 296 L645 272 L639 245 L639 217 L634 207.5 L640 197.5 L639 182.5 L644 175 Z" fill="#fff" stroke="#151515" stroke-width="1.49" />
<path d="M654 162.7 L674.6 173 L680.6 180 L684 190" fill="none" stroke="#151515" stroke-width="1.38" />
<path d="M647.5 166 Q648 163.5 651 163.2 L654 162.7" fill="none" stroke="#151515" stroke-width="1.26" />
<path d="M647.3 166 L647.3 174 M649.7 172 L654.9 170.4 L672 179 L676.5 186" fill="none" stroke="#151515" stroke-width="1.38" />
<path d="M655 170.8 L671.5 179.3" fill="none" stroke="#151515" stroke-width="2.76" />
<path d="M648.5 165 L650 167.2 M651 164.3 L652.5 166.5" fill="none" stroke="#151515" stroke-width="1.61" />
<path d="M667 161.2 L668.5 159.3 L670.5 163" fill="none" stroke="#151515" stroke-width="1.26" />
<path d="M673 174.5 L681.5 171.5 M676 178.5 L685 176 M680.6 180 L683 189 L690 187.5" fill="none" stroke="#151515" stroke-width="1.26" />
<path d="M649.7 172 L651 177 L662.6 183.3 L670.3 180.7 M662.6 183.3 L664.3 189.5 L672 186.7 L670.3 180.7 M664.3 189.5 L666.5 190.5 L668 196.5 L676 193.5 L672 186.7 M668 196.5 L671 198 L672.5 204 L680 201 L676 193.5 M672.5 204 L675 206 L676.5 211.5 L683.5 209 L680 201" fill="none" stroke="#151515" stroke-width="1.44" />
<path d="M643.3 172 L639.4 181.6 L643.7 184.3 L644.7 180" fill="none" stroke="#151515" stroke-width="1.38" />
<path d="M683 190 L686 205 L690 212 L694 230 L698 248 L703 266 L704 280 L702 293" fill="none" stroke="#151515" stroke-width="1.26" />
<path d="M686 205 L695 206 M688.5 193 L692.5 191 M692 221 L701 219 M695 234 L704 232 M697 243 L706 241 M701 258 L711 256.5 M703.5 270 L713 269" fill="none" stroke="#151515" stroke-width="1.15" />
<path d="M690 212 L683 214 M694 230 L686 232" fill="none" stroke="#151515" stroke-width="1.03" />
<ellipse cx="661" cy="247.5" rx="54.6" ry="25" transform="rotate(78.6 661 247.5)" fill="#fff" stroke="#151515" stroke-width="1.61" />
<path d="M666.4 199.3 L670.2 203.2 L673.8 208.1 L677.3 214 L680.4 220.6 L683.2 227.9 L685.5 235.5 L687.3 243.5 L688.5 251.5 L689.2 259.5 L689.3 267.1 L688.8 274.3 L687.8 280.8 L686.1 286.5 L684 291.4 L681.4 295.2 L678.4 297.8 L675.1 299.3 L671.5 299.6 L667.7 298.6 L663.8 296.5 L660 293.2 L656.2 288.8 L652.7 283.4 L649.3 277.2" fill="none" stroke="#151515" stroke-width="1.15" />
<path d="M676 206.5 L679.2 211.5 L682.1 217.2 L684.7 223.4 L687 230.1 L689 237.1 L690.5 244.2 L691.6 251.4 L692.2 258.5 L692.4 265.4 L692 271.9 L691.3 277.9 L690 283.4 L688.4 288.1 L686.3 292 L683.9 295.1 L681.1 297.2 L678.1 298.4 L674.9 298.6 L671.6 297.8 L668.2 296 L664.8 293.3 L661.4 289.7 L658.1 285.2 L655 280" fill="none" stroke="#2a2a2a" stroke-width="2.53" />
<path d="M683 212.8 L685.6 218 L688 223.8 L690.1 229.9 L691.9 236.2 L693.3 242.8 L694.4 249.3 L695 255.9 L695.3 262.2 L695.2 268.3 L694.7 274 L693.7 279.3 L692.5 284.1 L690.8 288.2 L688.8 291.6 L686.6 294.3 L684 296.3 L681.3 297.4 L678.4 297.7 L675.3 297.1 L672.2 295.7 L669 293.5 L665.9 290.6 L662.8 286.9 L659.9 282.6" fill="none" stroke="#151515" stroke-width="1.15" />
<line x1="683" y1="247" x2="690" y2="244.5" stroke="#151515" stroke-width="1.0"/>
<ellipse cx="661" cy="249" rx="44.5" ry="19" transform="rotate(78.6 661 249)" fill="#fff" stroke="#151515" stroke-width="1.61" />
<path d="M665.2 210.3 L667.8 213.1 L670.4 216.6 L672.8 220.8 L675.1 225.5 L677.1 230.6 L678.9 236 L680.4 241.7 L681.6 247.5 L682.5 253.3 L683 259.1 L683.1 264.6 L682.9 269.8 L682.4 274.7 L681.4 279 L680.2 282.7 L678.6 285.8 L676.8 288.2 L674.7 289.8 L672.4 290.7 L669.9 290.7 L667.4 289.9 L664.7 288.4 L662.1 286.1 L659.5 283" fill="none" stroke="#151515" stroke-width="1.26" />
<path d="M656 224 L661 234 L664.5 232 L660 223" fill="none" stroke="#151515" stroke-width="1.15" />
<ellipse cx="665" cy="245" rx="12.5" ry="3.4" transform="rotate(78.6 665 245)" fill="#fff" stroke="#151515" stroke-width="1.15" />
<ellipse cx="665.5" cy="245" rx="9" ry="1.8" transform="rotate(78.6 665.5 245)" fill="#bbb" stroke="#151515" stroke-width="0.8" />
<path d="M661 234 Q658.5 246 664 262 M664.5 232 Q672 245 672.5 262" fill="none" stroke="#151515" stroke-width="1.03" />
<ellipse cx="635.5" cy="218" rx="0.9" ry="0.9" transform="rotate(0 635.5 218)" fill="#111" stroke="#151515" stroke-width="0.69" />
<ellipse cx="662" cy="293.5" rx="1.1" ry="1.1" transform="rotate(0 662 293.5)" fill="#111" stroke="#151515" stroke-width="0.69" />
<ellipse cx="693" cy="304.5" rx="2.2" ry="2.8" transform="rotate(0 693 304.5)" fill="#fff" stroke="#151515" stroke-width="1.15" />
<path d="M686 179.8 L692 177.5 L692 183.5 L686 185.2 Z" fill="#fff" stroke="#151515" stroke-width="1.15" />
<ellipse cx="692" cy="180.5" rx="2.7" ry="4.5" transform="rotate(-12 692 180.5)" fill="#2a2a2a" stroke="#151515" stroke-width="1.26" />
<ellipse cx="693.6" cy="180.1" rx="2" ry="3.8" transform="rotate(-12 693.6 180.1)" fill="#fff" stroke="#151515" stroke-width="1.03" />
<path d="M698 215.8 L707 213.5 L707 219.5 L698 221.2 Z" fill="#fff" stroke="#151515" stroke-width="1.15" />
<ellipse cx="707" cy="216.5" rx="2.7" ry="4.5" transform="rotate(-12 707 216.5)" fill="#2a2a2a" stroke="#151515" stroke-width="1.26" />
<ellipse cx="708.6" cy="216.1" rx="2" ry="3.8" transform="rotate(-12 708.6 216.1)" fill="#fff" stroke="#151515" stroke-width="1.03" />
<path d="M706 265.8 L715.5 263.5 L715.5 269.5 L706 271.2 Z" fill="#fff" stroke="#151515" stroke-width="1.15" />
<ellipse cx="715.5" cy="266.5" rx="2.9" ry="4.8" transform="rotate(-12 715.5 266.5)" fill="#2a2a2a" stroke="#151515" stroke-width="1.26" />
<ellipse cx="717.1" cy="266.1" rx="2.2" ry="4.1" transform="rotate(-12 717.1 266.1)" fill="#fff" stroke="#151515" stroke-width="1.03" />
<path d="M701 295.8 L710.5 293.5 L710.5 299.5 L701 301.2 Z" fill="#fff" stroke="#151515" stroke-width="1.15" />
<ellipse cx="710.5" cy="296.5" rx="2.9" ry="4.8" transform="rotate(-12 710.5 296.5)" fill="#2a2a2a" stroke="#151515" stroke-width="1.26" />
<ellipse cx="712.1" cy="296.1" rx="2.2" ry="4.1" transform="rotate(-12 712.1 296.1)" fill="#fff" stroke="#151515" stroke-width="1.03" />
<path d="M697.5 301 L701 321 L726 312.5 L727.5 303 L722 300 L715 305 Q708 309 704 305 L702 299 Z" fill="#fff" stroke="#151515" stroke-width="1.38" />
<path d="M704 305 L706 315 L726 308.5" fill="none" stroke="#151515" stroke-width="1.15" />
<path d="M722 300 Q727 301 728.5 303" fill="none" stroke="#151515" stroke-width="1.15" />
<path d="M746.5 250 L750.5 247.5 L759 248.5 L762.5 252 L763 262 L766 272.5 L772.5 275.5 L772 280.5 Q752 289.5 737 299.5 L728.5 305 L720 301.5 Q736 292 752 284.5 L750.3 279 L748.5 262 Z" fill="#fff" stroke="#151515" stroke-width="1.49" />
<path d="M746.5 250 L755.5 251.5 L759 248.5 M755.5 251.5 L757 262 Q758 270 762 275.5 L766 272.5 M750.3 279 L762 275.5 L771.5 276.5" fill="none" stroke="#151515" stroke-width="1.15" />
<path d="M708.7 282.5 L748.7 273" fill="none" stroke="#151515" stroke-width="1.15" />
<path d="M735 296.5 L736.5 299.5 M739 294 L740.5 297" fill="none" stroke="#151515" stroke-width="1.03" />
<path d="M714 297 L719 293.5 Q724 297 720 301.5 Q717 303 715 301.5 Z" fill="#fff" stroke="#151515" stroke-width="1.15" />
<path d="M861.5 152 L893 141 L896.7 187.5 Q896.5 197 891 203 Q887 206.5 880 208.5 L860.5 215.5 L860 205 Z" fill="#fff" stroke="#151515" stroke-width="1.61" />
<path d="M871.7 190 L896.7 183.7" fill="none" stroke="#151515" stroke-width="1.15" />
<path d="M785 187.5 L862 155 L866.7 207.5 L792 238.5 Z" fill="#fff" stroke="#151515" stroke-width="1.38" />
<path d="M785 188 L862 155.7" fill="none" stroke="#1a1a1a" stroke-width="2.01" stroke-linecap="butt"/>
<path d="M785.5 191.8 L862.4 159.6" fill="none" stroke="#1a1a1a" stroke-width="2.01" stroke-linecap="butt"/>
<path d="M786.1 195.7 L862.7 163.6" fill="none" stroke="#1a1a1a" stroke-width="2.01" stroke-linecap="butt"/>
<path d="M786.6 199.5 L863.1 167.5" fill="none" stroke="#1a1a1a" stroke-width="2.01" stroke-linecap="butt"/>
<path d="M787.2 203.4 L863.4 171.5" fill="none" stroke="#1a1a1a" stroke-width="2.01" stroke-linecap="butt"/>
<path d="M787.7 207.2 L863.8 175.4" fill="none" stroke="#1a1a1a" stroke-width="2.01" stroke-linecap="butt"/>
<path d="M788.2 211.1 L864.2 179.4" fill="none" stroke="#1a1a1a" stroke-width="2.01" stroke-linecap="butt"/>
<path d="M788.8 214.9 L864.5 183.3" fill="none" stroke="#1a1a1a" stroke-width="2.01" stroke-linecap="butt"/>
<path d="M789.3 218.8 L864.9 187.3" fill="none" stroke="#1a1a1a" stroke-width="2.01" stroke-linecap="butt"/>
<path d="M789.8 222.6 L865.3 191.2" fill="none" stroke="#1a1a1a" stroke-width="2.01" stroke-linecap="butt"/>
<path d="M790.4 226.5 L865.6 195.2" fill="none" stroke="#1a1a1a" stroke-width="2.01" stroke-linecap="butt"/>
<path d="M790.9 230.3 L866 199.1" fill="none" stroke="#1a1a1a" stroke-width="2.01" stroke-linecap="butt"/>
<path d="M791.5 234.2 L866.3 203.1" fill="none" stroke="#1a1a1a" stroke-width="2.01" stroke-linecap="butt"/>
<path d="M792 238 L866.7 207" fill="none" stroke="#1a1a1a" stroke-width="2.01" stroke-linecap="butt"/>
<path d="M785.3 190.1 L862.2 157.9" fill="none" stroke="#aaa" stroke-width="0.57" />
<path d="M785.8 194 L862.6 161.8" fill="none" stroke="#aaa" stroke-width="0.57" />
<path d="M786.4 197.8 L862.9 165.8" fill="none" stroke="#aaa" stroke-width="0.57" />
<path d="M786.9 201.7 L863.3 169.7" fill="none" stroke="#aaa" stroke-width="0.57" />
<path d="M787.5 205.5 L863.6 173.7" fill="none" stroke="#aaa" stroke-width="0.57" />
<path d="M788 209.3 L864 177.6" fill="none" stroke="#aaa" stroke-width="0.57" />
<path d="M788.5 213.2 L864.4 181.5" fill="none" stroke="#aaa" stroke-width="0.57" />
<path d="M789.1 217 L864.7 185.5" fill="none" stroke="#aaa" stroke-width="0.57" />
<path d="M789.6 220.9 L865.1 189.4" fill="none" stroke="#aaa" stroke-width="0.57" />
<path d="M790.1 224.7 L865.5 193.4" fill="none" stroke="#aaa" stroke-width="0.57" />
<path d="M790.7 228.6 L865.8 197.3" fill="none" stroke="#aaa" stroke-width="0.57" />
<path d="M791.2 232.4 L866.2 201.3" fill="none" stroke="#aaa" stroke-width="0.57" />
<path d="M791.8 236.3 L866.5 205.2" fill="none" stroke="#aaa" stroke-width="0.57" />
<ellipse cx="870" cy="181.5" rx="1.8" ry="2.4" transform="rotate(0 870 181.5)" fill="#444" stroke="#151515" stroke-width="1.03" />
<path d="M760 147 L762 152 L766 168 L790 181 L804 178 L806 163 L796 166 Z" fill="#fff" stroke="#151515" stroke-width="1.26" />
<path d="M765.5 151.5 L768 166" fill="none" stroke="#151515" stroke-width="3.68" />
<path d="M771.5 154.5 L773.5 168.5 M776.5 157 L778.5 171 M782 160 L783.5 173.5 M787 162.5 L788.5 176 M768 166 L788 176" fill="none" stroke="#151515" stroke-width="1.49" />
<path d="M793 166 L794 179" fill="none" stroke="#151515" stroke-width="2.99" />
<path d="M791 164 L792 181 M796 166 L805 163.5" fill="none" stroke="#151515" stroke-width="1.15" />
<g transform="translate(-2.5 0.5)">
<path d="M765.8 165.2 L769.3 164.2 L771.6 163.9 L773.9 164.3 L776.3 165.3 L778.8 166.9 L781.3 169.1 L783.7 171.8 L786.1 175.1 L788.3 178.8 L790.4 182.9 L792.3 187.3 L794 192 L795.4 196.8 L796.5 201.7 L797.3 206.6 L797.8 211.4 L798 216.1 L797.9 220.5 L797.4 224.5 L796.6 228.2 L795.5 231.4 L794.2 234.1 L792.6 236.3 L790.7 237.8 L788.7 238.8 L785.2 239.8Z" fill="#fff" stroke="none" stroke-width="0.0" />
<path d="M765.8 165.2 L769.3 164.2 L771.6 163.9 L773.9 164.3 L776.3 165.3 L778.8 166.9 L781.3 169.1 L783.7 171.8 L786.1 175.1 L788.3 178.8 L790.4 182.9 L792.3 187.3 L794 192 L795.4 196.8 L796.5 201.7 L797.3 206.6 L797.8 211.4 L798 216.1 L797.9 220.5 L797.4 224.5 L796.6 228.2 L795.5 231.4 L794.2 234.1 L792.6 236.3 L790.7 237.8 L788.7 238.8 L785.2 239.8" fill="none" stroke="#151515" stroke-width="1.55" />
<ellipse cx="775.5" cy="202.5" rx="38.5" ry="17" transform="rotate(75.8 775.5 202.5)" fill="#fff" stroke="#151515" stroke-width="1.72" />
<ellipse cx="776.2" cy="202.5" rx="35" ry="14.6" transform="rotate(75.8 776.2 202.5)" fill="none" stroke="#151515" stroke-width="1.15" />
<ellipse cx="777.5" cy="202" rx="29.5" ry="11.5" transform="rotate(75.8 777.5 202)" fill="#fff" stroke="#151515" stroke-width="1.61" />
<ellipse cx="778.3" cy="201.8" rx="26.5" ry="9.6" transform="rotate(75.8 778.3 201.8)" fill="none" stroke="#151515" stroke-width="1.15" />
<path d="M768 180 L777 190 M764.5 214 L775 212 M787 222 L779.5 213 M790.5 190 L781 194" fill="none" stroke="#151515" stroke-width="1.49" />
<path d="M778.3 179.5 L779.1 180.5 L780 181.6 L780.9 182.9 L781.8 184.3 L782.7 185.9 L783.5 187.6 L784.3 189.4 L785.1 191.3 L785.8 193.2 L786.5 195.3 L787.1 197.3 L787.6 199.4 L788.1 201.6 L788.6 203.7 L789 205.8 L789.2 207.9 L789.5 209.9 L789.6 211.8 L789.7 213.7 L789.7 215.5 L789.6 217.2 L789.4 218.7 L789.2 220.2 L788.9 221.5" fill="none" stroke="#444" stroke-width="2.76" />
<ellipse cx="778" cy="202" rx="9.5" ry="5" transform="rotate(75.8 778 202)" fill="#fff" stroke="#151515" stroke-width="1.38" />
<ellipse cx="778.3" cy="201.9" rx="6" ry="3" transform="rotate(75.8 778.3 201.9)" fill="#fff" stroke="#151515" stroke-width="1.03" />
</g>
<path d="M762.5 170 L768.5 166.5 L771 171.5 L765 174.5 Z M755.5 205 L756.5 212 L761 212.5 M781 237.5 L788 235 L789 239.5 L783 241.5 M790 186.5 L795.5 189" fill="#fff" stroke="#151515" stroke-width="1.15" />
<path d="M745.5 174.9 L755.5 172.5 L756.1 175.7 L746.3 178.3 Z" fill="#fff" stroke="#151515" stroke-width="1.15" />
<ellipse cx="745.9" cy="176.6" rx="1" ry="1.8" transform="rotate(-12 745.9 176.6)" fill="#fff" stroke="#151515" stroke-width="1.03" />
<path d="M756 227.4 L765 225 L765.6 228.2 L756.8 230.8 Z" fill="#fff" stroke="#151515" stroke-width="1.15" />
<ellipse cx="756.4" cy="229.1" rx="1" ry="1.8" transform="rotate(-12 756.4 229.1)" fill="#fff" stroke="#151515" stroke-width="1.03" />
<path d="M770.5 238.4 L781.5 236 L782.1 239.2 L771.3 241.8 Z" fill="#fff" stroke="#151515" stroke-width="1.15" />
<ellipse cx="770.9" cy="240.1" rx="1" ry="1.8" transform="rotate(-12 770.9 240.1)" fill="#fff" stroke="#151515" stroke-width="1.03" />
<path d="M773.5 186.9 L781.5 184.5 L782.1 187.7 L774.3 190.3 Z" fill="#fff" stroke="#151515" stroke-width="1.15" />
<ellipse cx="773.9" cy="188.6" rx="1" ry="1.8" transform="rotate(-12 773.9 188.6)" fill="#fff" stroke="#151515" stroke-width="1.03" />
<path d="M748.5 210 L773 202.3 L772.5 210 L750 217.5 Z" fill="#fff" stroke="#151515" stroke-width="1.49" />
<path d="M735.5 214 L748.5 210.5 L749.5 217 L736.5 220.5 Z" fill="#fff" stroke="#151515" stroke-width="1.38" />
<ellipse cx="735.8" cy="217.2" rx="1.4" ry="3" transform="rotate(-12 735.8 217.2)" fill="#fff" stroke="#151515" stroke-width="1.15" />
<path d="M741 212.7 L742 219 M752 211.5 L764 207.8" fill="none" stroke="#151515" stroke-width="1.03" />
<ellipse cx="739.3" cy="205.3" rx="2.8" ry="1.3" transform="rotate(-12 739.3 205.3)" fill="#222" stroke="#151515" stroke-width="1.03" />
<path d="M760.5 100 L757.5 137 L758.5 147 L798 167.5 L893.5 132.5 L892 122.5 L879 87 Q877 83.5 874 82 L850 64.5 Q848 63.2 845.5 64.2 L763.5 97.5 Q760.7 98.7 760.5 100 Z" fill="#fff" stroke="#151515" stroke-width="1.72" />
<path d="M757.5 137 L797.5 158.5 L892 122.5" fill="none" stroke="#151515" stroke-width="1.95" />
<path d="M797.5 163.5 L893 128 M797.5 158.5 L798 167.5" fill="none" stroke="#151515" stroke-width="1.26" />
<path d="M760.5 100 L788 111.3 Q792 112.5 795 111 L872 80.5" fill="none" stroke="#151515" stroke-width="1.49" />
<path d="M764 98 L789.5 108.5" fill="none" stroke="#151515" stroke-width="1.15" />
<path d="M790.5 113 L797.5 158 M794.5 122.5 L881 90" fill="none" stroke="#151515" stroke-width="1.38" />
<path d="M788 111.3 Q792 116 793 124 L800 157" fill="none" stroke="#151515" stroke-width="1.15" />
<ellipse cx="817.5" cy="88" rx="21.5" ry="9.3" transform="rotate(-11 817.5 88)" fill="#fff" stroke="#151515" stroke-width="1.49" />
<path d="M753.5 109.0 L758.5 105.5 L764.5 107.5 L766.5 116.0 L762.5 122.0 L756.0 121.0 L752.5 115.0 Z" fill="#fff" stroke="#151515" stroke-width="1.38" />
<ellipse cx="756.2" cy="113.5" rx="3.2" ry="6.3" transform="rotate(-15 756.2 113.5)" fill="#fff" stroke="#151515" stroke-width="1.26" />
<path d="M758.5 105.5 L760.5 113.0 L762.5 122.0 M760.5 113.0 L766.5 116.0" fill="none" stroke="#151515" stroke-width="1.03" />
<path d="M771.7 120.25 L776.95 116.575 L783.25 118.675 L785.35 127.6 L781.15 133.9 L774.325 132.85 L770.65 126.55 Z" fill="#fff" stroke="#151515" stroke-width="1.38" />
<ellipse cx="774.5" cy="125" rx="3.4" ry="6.6" transform="rotate(-15 774.5 125)" fill="#fff" stroke="#151515" stroke-width="1.26" />
<path d="M776.95 116.575 L779.05 124.45 L781.15 133.9 M779.05 124.45 L785.35 127.6" fill="none" stroke="#151515" stroke-width="1.03" />
<text x="0" y="0" transform="translate(113 29.2) scale(0.56 1)" text-anchor="middle" class="lb">7</text>
<line x1="105" y1="31.5" x2="121" y2="31.5" stroke="#222" stroke-width="1.15"/>
<line x1="121" y1="31.5" x2="150" y2="43" stroke="#222" stroke-width="1.15"/>
<text x="0" y="0" transform="translate(118 78.7) scale(0.56 1)" text-anchor="middle" class="lb">6</text>
<line x1="110" y1="81" x2="126" y2="81" stroke="#222" stroke-width="1.15"/>
<line x1="126" y1="81" x2="175" y2="101" stroke="#222" stroke-width="1.15"/>
<text x="0" y="0" transform="translate(127 135.7) scale(0.56 1)" text-anchor="middle" class="lb">5</text>
<line x1="118" y1="138" x2="135" y2="138" stroke="#222" stroke-width="1.15"/>
<line x1="135" y1="138" x2="182" y2="156" stroke="#222" stroke-width="1.15"/>
<text x="0" y="0" transform="translate(136 189.7) scale(0.56 1)" text-anchor="middle" class="lb">4</text>
<line x1="128" y1="192" x2="145" y2="192" stroke="#222" stroke-width="1.15"/>
<line x1="145" y1="192" x2="190" y2="208" stroke="#222" stroke-width="1.15"/>
<text x="0" y="0" transform="translate(343 111.7) scale(0.56 1)" text-anchor="middle" class="lb">28</text>
<line x1="335" y1="114" x2="352" y2="114" stroke="#222" stroke-width="1.15"/>
<line x1="335" y1="114" x2="301" y2="137" stroke="#222" stroke-width="1.15"/>
<text x="0" y="0" transform="translate(350.5 152.4) scale(0.56 1)" text-anchor="middle" class="lb">1</text>
<line x1="341" y1="154.7" x2="359" y2="154.7" stroke="#222" stroke-width="1.15"/>
<line x1="341" y1="154.7" x2="311" y2="173.7" stroke="#222" stroke-width="1.15"/>
<text x="0" y="0" transform="translate(357 191.4) scale(0.56 1)" text-anchor="middle" class="lb">2</text>
<line x1="348.7" y1="193.7" x2="365" y2="193.7" stroke="#222" stroke-width="1.15"/>
<line x1="348.7" y1="193.7" x2="316" y2="214.4" stroke="#222" stroke-width="1.15"/>
<text x="0" y="0" transform="translate(362.5 235.4) scale(0.56 1)" text-anchor="middle" class="lb">3</text>
<line x1="354" y1="237.7" x2="371" y2="237.7" stroke="#222" stroke-width="1.15"/>
<line x1="354" y1="237.7" x2="332" y2="254" stroke="#222" stroke-width="1.15"/>
<text x="0" y="0" transform="translate(140 317.7) scale(0.56 1)" text-anchor="middle" class="lb">3</text>
<line x1="130" y1="320" x2="148" y2="320" stroke="#222" stroke-width="1.15"/>
<line x1="148" y1="320" x2="167" y2="353" stroke="#222" stroke-width="1.15"/>
<text x="0" y="0" transform="translate(104 324.7) scale(0.56 1)" text-anchor="middle" class="lb">2</text>
<line x1="96" y1="327" x2="112" y2="327" stroke="#222" stroke-width="1.15"/>
<line x1="112" y1="327" x2="136" y2="371" stroke="#222" stroke-width="1.15"/>
<text x="0" y="0" transform="translate(64 342.7) scale(0.56 1)" text-anchor="middle" class="lb">1</text>
<line x1="56" y1="345" x2="72" y2="345" stroke="#222" stroke-width="1.15"/>
<line x1="72" y1="345" x2="101" y2="395" stroke="#222" stroke-width="1.15"/>
<text x="0" y="0" transform="translate(24 362.7) scale(0.56 1)" text-anchor="middle" class="lb">28</text>
<line x1="15" y1="365" x2="33" y2="365" stroke="#222" stroke-width="1.15"/>
<line x1="33" y1="365" x2="56" y2="403" stroke="#222" stroke-width="1.15"/>
<text x="0" y="0" transform="translate(167 512.7) scale(0.56 1)" text-anchor="middle" class="lb">8</text>
<line x1="159" y1="515" x2="176" y2="515" stroke="#222" stroke-width="1.15"/>
<line x1="176" y1="515" x2="193" y2="486" stroke="#222" stroke-width="1.15"/>
<text x="0" y="0" transform="translate(172 540.7) scale(0.56 1)" text-anchor="middle" class="lb">9</text>
<line x1="164" y1="543" x2="181" y2="543" stroke="#222" stroke-width="1.15"/>
<line x1="181" y1="543" x2="210" y2="476" stroke="#222" stroke-width="1.15"/>
<text x="0" y="0" transform="translate(316 479.7) scale(0.56 1)" text-anchor="middle" class="lb">9</text>
<line x1="308" y1="482" x2="325" y2="482" stroke="#222" stroke-width="1.15"/>
<line x1="325" y1="482" x2="346" y2="448" stroke="#222" stroke-width="1.15"/>
<text x="0" y="0" transform="translate(330 502.7) scale(0.56 1)" text-anchor="middle" class="lb">8</text>
<line x1="322" y1="505" x2="339" y2="505" stroke="#222" stroke-width="1.15"/>
<line x1="339" y1="505" x2="363" y2="459" stroke="#222" stroke-width="1.15"/>
<text x="0" y="0" transform="translate(408 431.4) scale(0.56 1)" text-anchor="middle" class="lb">27</text>
<line x1="398" y1="433.7" x2="417" y2="433.7" stroke="#222" stroke-width="1.15"/>
<line x1="398" y1="433.7" x2="375.6" y2="402.5" stroke="#222" stroke-width="1.15"/>
<text x="0" y="0" transform="translate(391 249.7) scale(0.56 1)" text-anchor="middle" class="lb">10</text>
<line x1="382" y1="252" x2="400" y2="252" stroke="#222" stroke-width="1.15"/>
<line x1="382" y1="252" x2="373" y2="330" stroke="#222" stroke-width="1.15"/>
<text x="0" y="0" transform="translate(465 229.7) scale(0.56 1)" text-anchor="middle" class="lb">11</text>
<line x1="455" y1="232" x2="473" y2="232" stroke="#222" stroke-width="1.15"/>
<line x1="455" y1="232" x2="450" y2="302.5" stroke="#222" stroke-width="1.15"/>
<text x="0" y="0" transform="translate(519 215.7) scale(0.56 1)" text-anchor="middle" class="lb">12</text>
<line x1="510" y1="218" x2="527" y2="218" stroke="#222" stroke-width="1.15"/>
<line x1="510" y1="218" x2="503" y2="302.5" stroke="#222" stroke-width="1.15"/>
<text x="0" y="0" transform="translate(570 204.7) scale(0.56 1)" text-anchor="middle" class="lb">13</text>
<line x1="562" y1="207" x2="578" y2="207" stroke="#222" stroke-width="1.15"/>
<line x1="562" y1="207" x2="557" y2="280" stroke="#222" stroke-width="1.15"/>
<text x="0" y="0" transform="translate(608 125.7) scale(0.56 1)" text-anchor="middle" class="lb">14</text>
<line x1="599" y1="128" x2="616" y2="128" stroke="#222" stroke-width="1.15"/>
<line x1="599" y1="128" x2="596" y2="192" stroke="#222" stroke-width="1.15"/>
<text x="0" y="0" transform="translate(703 95.7) scale(0.56 1)" text-anchor="middle" class="lb">15</text>
<line x1="695" y1="98" x2="712" y2="98" stroke="#222" stroke-width="1.15"/>
<line x1="695" y1="98" x2="692" y2="176" stroke="#222" stroke-width="1.15"/>
<text x="0" y="0" transform="translate(750 73.7) scale(0.56 1)" text-anchor="middle" class="lb">16</text>
<line x1="742.5" y1="76" x2="759" y2="76" stroke="#222" stroke-width="1.15"/>
<line x1="742.5" y1="76" x2="738.5" y2="202" stroke="#222" stroke-width="1.15"/>
<text x="0" y="0" transform="translate(798 61.4) scale(0.56 1)" text-anchor="middle" class="lb">17</text>
<line x1="790" y1="63.7" x2="807.5" y2="63.7" stroke="#222" stroke-width="1.15"/>
<line x1="790" y1="63.7" x2="790" y2="110" stroke="#222" stroke-width="1.15"/>
<text x="0" y="0" transform="translate(919 215.7) scale(0.56 1)" text-anchor="middle" class="lb">18</text>
<line x1="910.5" y1="218" x2="928" y2="218" stroke="#222" stroke-width="1.15"/>
<line x1="910.5" y1="218" x2="897" y2="194" stroke="#222" stroke-width="1.15"/>
<text x="0" y="0" transform="translate(919 243.7) scale(0.56 1)" text-anchor="middle" class="lb">19</text>
<line x1="910.5" y1="246" x2="927" y2="246" stroke="#222" stroke-width="1.15"/>
<line x1="910.5" y1="246" x2="870.5" y2="184" stroke="#222" stroke-width="1.15"/>
<text x="0" y="0" transform="translate(859 270.7) scale(0.56 1)" text-anchor="middle" class="lb">20</text>
<line x1="849" y1="273" x2="868" y2="273" stroke="#222" stroke-width="1.15"/>
<line x1="849" y1="273" x2="800.5" y2="229" stroke="#222" stroke-width="1.15"/>
<text x="0" y="0" transform="translate(804 304.7) scale(0.56 1)" text-anchor="middle" class="lb">21</text>
<line x1="795" y1="307" x2="812" y2="307" stroke="#222" stroke-width="1.15"/>
<line x1="795" y1="307" x2="765" y2="275" stroke="#222" stroke-width="1.15"/>
<text x="0" y="0" transform="translate(742 341.7) scale(0.56 1)" text-anchor="middle" class="lb">22</text>
<line x1="733" y1="344" x2="750" y2="344" stroke="#222" stroke-width="1.15"/>
<line x1="733" y1="344" x2="705" y2="315" stroke="#222" stroke-width="1.15"/>
<text x="0" y="0" transform="translate(647 350.7) scale(0.56 1)" text-anchor="middle" class="lb">23</text>
<line x1="638" y1="353" x2="655" y2="353" stroke="#222" stroke-width="1.15"/>
<line x1="638" y1="353" x2="585" y2="286" stroke="#222" stroke-width="1.15"/>
<text x="0" y="0" transform="translate(591 369.7) scale(0.56 1)" text-anchor="middle" class="lb">24</text>
<line x1="582" y1="372" x2="600" y2="372" stroke="#222" stroke-width="1.15"/>
<line x1="582" y1="372" x2="521" y2="308" stroke="#222" stroke-width="1.15"/>
<text x="0" y="0" transform="translate(540 383.7) scale(0.56 1)" text-anchor="middle" class="lb">25</text>
<line x1="531" y1="386" x2="550" y2="386" stroke="#222" stroke-width="1.15"/>
<line x1="531" y1="386" x2="480" y2="323.7" stroke="#222" stroke-width="1.15"/>
<text x="0" y="0" transform="translate(476 408.7) scale(0.56 1)" text-anchor="middle" class="lb">26</text>
<line x1="466" y1="411" x2="485" y2="411" stroke="#222" stroke-width="1.15"/>
<line x1="466" y1="411" x2="428" y2="362" stroke="#222" stroke-width="1.15"/>
</g>
</svg>
</body></html>
